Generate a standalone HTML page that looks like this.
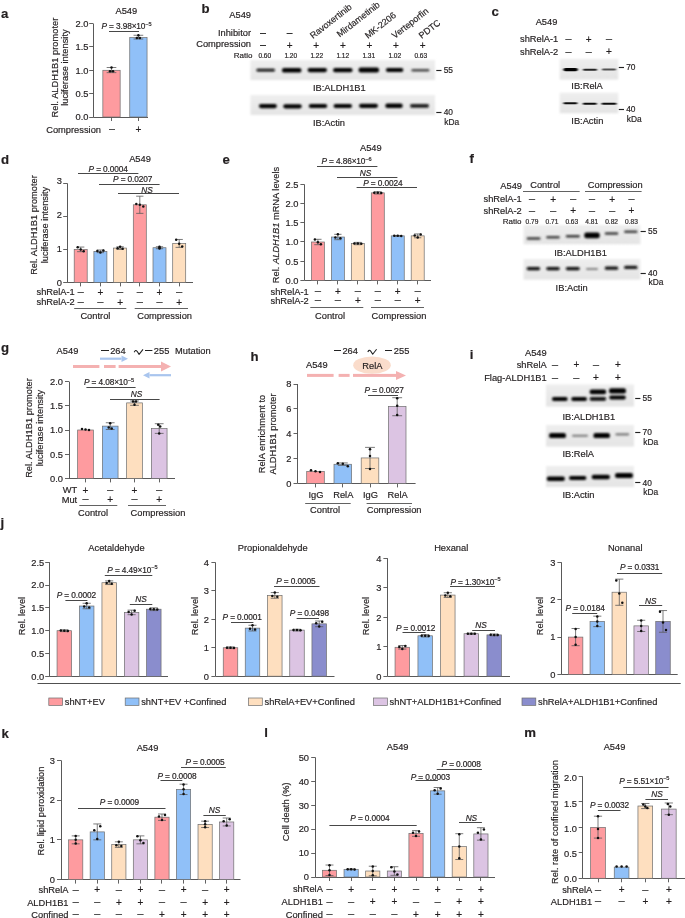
<!DOCTYPE html>
<html><head><meta charset="utf-8"><title>Figure</title>
<style>
html,body{margin:0;padding:0;background:#fff;}
body{width:685px;height:918px;overflow:hidden;}
svg{display:block;will-change:transform;}
text{font-family:"Liberation Sans",sans-serif;fill:#231f20;stroke:#231f20;stroke-width:0.18px;}
</style></head>
<body>
<svg width="685" height="918" viewBox="0 0 685 918">
<defs>
<filter id="band" x="-30%" y="-150%" width="160%" height="400%"><feGaussianBlur stdDeviation="1.1 0.85"/></filter>
<filter id="bandc" x="-30%" y="-150%" width="160%" height="400%"><feGaussianBlur stdDeviation="0.8 0.55"/></filter>
<linearGradient id="blotg" x1="0" y1="0" x2="0" y2="1"><stop offset="0" stop-color="#eeeeee"/><stop offset="1" stop-color="#e4e4e4"/></linearGradient>
<filter id="soft" x="-5%" y="-10%" width="110%" height="120%"><feGaussianBlur stdDeviation="0.9"/></filter>
</defs>
<rect width="685" height="918" fill="#fff"/>
<text x="1.00" y="18.00" font-size="13.2" font-weight="bold" fill="#111">a</text>
<text x="126.30" y="14.20" font-size="9.3" text-anchor="middle">A549</text>
<line x1="93.50" y1="23.60" x2="93.50" y2="117.00" stroke="#505050" stroke-width="0.95"/>
<line x1="89.20" y1="117.50" x2="93.20" y2="117.50" stroke="#505050" stroke-width="0.9"/>
<text x="88.50" y="120.35" font-size="9.3" text-anchor="end">0.0</text>
<line x1="89.20" y1="93.50" x2="93.20" y2="93.50" stroke="#505050" stroke-width="0.9"/>
<text x="88.50" y="97.00" font-size="9.3" text-anchor="end">0.5</text>
<line x1="89.20" y1="70.50" x2="93.20" y2="70.50" stroke="#505050" stroke-width="0.9"/>
<text x="88.50" y="73.65" font-size="9.3" text-anchor="end">1.0</text>
<line x1="89.20" y1="46.50" x2="93.20" y2="46.50" stroke="#505050" stroke-width="0.9"/>
<text x="88.50" y="50.30" font-size="9.3" text-anchor="end">1.5</text>
<line x1="89.20" y1="23.50" x2="93.20" y2="23.50" stroke="#505050" stroke-width="0.9"/>
<text x="88.50" y="26.95" font-size="9.3" text-anchor="end">2.0</text>
<line x1="93.20" y1="117.50" x2="148.00" y2="117.50" stroke="#505050" stroke-width="0.95"/>
<line x1="111.50" y1="117.00" x2="111.50" y2="121.00" stroke="#505050" stroke-width="0.9"/>
<line x1="138.50" y1="117.00" x2="138.50" y2="121.00" stroke="#505050" stroke-width="0.9"/>
<text transform="translate(58.42,67.60) rotate(-90)" font-size="9.3" text-anchor="middle">Rel. ALDH1B1 promoter</text>
<text transform="translate(68.42,67.60) rotate(-90)" font-size="9.3" text-anchor="middle">luciferase intensity</text>
<rect x="102.85" y="70.30" width="17.30" height="46.70" fill="#fe9b9f" stroke="#6d6d6d" stroke-width="0.7"/>
<line x1="111.50" y1="67.50" x2="111.50" y2="72.63" stroke="#5a5a5a" stroke-width="0.8"/>
<line x1="106.66" y1="67.50" x2="116.34" y2="67.50" stroke="#5a5a5a" stroke-width="0.8"/>
<line x1="106.66" y1="72.63" x2="116.34" y2="72.63" stroke="#5a5a5a" stroke-width="0.8"/>
<circle cx="111.50" cy="67.50" r="1.25" fill="#111"/>
<circle cx="110.00" cy="71.23" r="1.25" fill="#111"/>
<circle cx="113.00" cy="71.23" r="1.25" fill="#111"/>
<rect x="129.75" y="37.61" width="17.30" height="79.39" fill="#90c0f8" stroke="#6d6d6d" stroke-width="0.7"/>
<line x1="138.40" y1="35.27" x2="138.40" y2="39.01" stroke="#5a5a5a" stroke-width="0.8"/>
<line x1="133.56" y1="35.27" x2="143.24" y2="35.27" stroke="#5a5a5a" stroke-width="0.8"/>
<line x1="133.56" y1="39.01" x2="143.24" y2="39.01" stroke="#5a5a5a" stroke-width="0.8"/>
<circle cx="138.40" cy="35.27" r="1.25" fill="#111"/>
<circle cx="136.90" cy="38.08" r="1.25" fill="#111"/>
<circle cx="139.90" cy="38.08" r="1.25" fill="#111"/>
<line x1="109.00" y1="31.50" x2="139.00" y2="31.50" stroke="#262626" stroke-width="0.85"/>
<text x="126.50" y="29.00" font-size="8.3" text-anchor="middle" letter-spacing="-0.12"><tspan font-style="italic">P</tspan> = 3.98×10<tspan font-size="5.64" dy="-3.2">−5</tspan></text>
<text x="101.00" y="132.50" font-size="9.3" text-anchor="end">Compression</text>
<line x1="109.00" y1="129.50" x2="115.00" y2="129.50" stroke="#333" stroke-width="0.85"/>
<text x="138.40" y="132.80" font-size="10" text-anchor="middle">+</text>
<text x="201.50" y="12.80" font-size="13.2" font-weight="bold" fill="#111">b</text>
<text x="251.00" y="18.20" font-size="9.3" text-anchor="end">A549</text>
<text x="251.00" y="35.80" font-size="9.3" text-anchor="end">Inhibitor</text>
<text x="251.00" y="47.20" font-size="9.3" text-anchor="end">Compression</text>
<text x="252.50" y="57.50" font-size="8.0" text-anchor="end">Ratio</text>
<line x1="260.00" y1="33.50" x2="266.00" y2="33.50" stroke="#333" stroke-width="1.0"/>
<line x1="260.00" y1="45.50" x2="266.00" y2="45.50" stroke="#333" stroke-width="1.0"/>
<line x1="286.60" y1="33.50" x2="292.60" y2="33.50" stroke="#333" stroke-width="1.0"/>
<text x="289.60" y="48.50" font-size="10" text-anchor="middle">+</text>
<text x="316.20" y="48.50" font-size="10" text-anchor="middle">+</text>
<text x="342.80" y="48.50" font-size="10" text-anchor="middle">+</text>
<text x="369.40" y="48.50" font-size="10" text-anchor="middle">+</text>
<text x="396.00" y="48.50" font-size="10" text-anchor="middle">+</text>
<text x="422.60" y="48.50" font-size="10" text-anchor="middle">+</text>
<text x="264.80" y="57.80" font-size="6.6" text-anchor="middle">0.60</text>
<text x="290.80" y="57.80" font-size="6.6" text-anchor="middle">1.20</text>
<text x="316.80" y="57.80" font-size="6.6" text-anchor="middle">1.22</text>
<text x="342.80" y="57.80" font-size="6.6" text-anchor="middle">1.12</text>
<text x="368.80" y="57.80" font-size="6.6" text-anchor="middle">1.31</text>
<text x="394.80" y="57.80" font-size="6.6" text-anchor="middle">1.02</text>
<text x="420.80" y="57.80" font-size="6.6" text-anchor="middle">0.63</text>
<text transform="translate(313.00,39.00) rotate(-38)" font-size="9.0" text-anchor="start">Ravoxertinib</text>
<text transform="translate(339.80,37.60) rotate(-38)" font-size="9.0" text-anchor="start">Mirdametinib</text>
<text transform="translate(367.90,39.00) rotate(-38)" font-size="9.0" text-anchor="start">MK-2206</text>
<text transform="translate(394.80,39.00) rotate(-38)" font-size="9.0" text-anchor="start">Verteporfin</text>
<text transform="translate(421.80,39.00) rotate(-38)" font-size="9.0" text-anchor="start">PDTC</text>
<rect x="250.50" y="60.00" width="184.50" height="20.00" fill="url(#blotg)" filter="url(#soft)"/>
<rect x="256.45" y="68.85" width="18.50" height="2.70" rx="1.35" fill="rgb(11,11,11)" filter="url(#band)"/>
<rect x="281.95" y="68.00" width="19.50" height="4.60" rx="2.20" fill="rgb(4,4,4)" filter="url(#band)"/>
<rect x="307.55" y="67.95" width="19.50" height="4.30" rx="2.15" fill="rgb(4,4,4)" filter="url(#band)"/>
<rect x="333.05" y="68.10" width="19.50" height="4.20" rx="2.10" fill="rgb(4,4,4)" filter="url(#band)"/>
<rect x="358.55" y="67.60" width="20.50" height="4.80" rx="2.20" fill="rgb(4,4,4)" filter="url(#band)"/>
<rect x="385.85" y="68.00" width="17.50" height="4.00" rx="2.00" fill="rgb(4,4,4)" filter="url(#band)"/>
<rect x="411.40" y="68.90" width="18.00" height="2.60" rx="1.30" fill="rgb(68,68,68)" filter="url(#band)"/>
<rect x="250.50" y="95.00" width="184.50" height="20.00" fill="url(#blotg)" filter="url(#soft)"/>
<rect x="258.90" y="103.95" width="18.00" height="4.30" rx="2.15" fill="rgb(4,4,4)" filter="url(#band)"/>
<rect x="283.25" y="104.15" width="18.50" height="4.30" rx="2.15" fill="rgb(4,4,4)" filter="url(#band)"/>
<rect x="308.75" y="103.90" width="18.50" height="4.20" rx="2.10" fill="rgb(6,6,6)" filter="url(#band)"/>
<rect x="333.55" y="103.90" width="18.50" height="4.20" rx="2.10" fill="rgb(6,6,6)" filter="url(#band)"/>
<rect x="359.00" y="103.65" width="19.00" height="4.30" rx="2.15" fill="rgb(4,4,4)" filter="url(#band)"/>
<rect x="385.25" y="103.55" width="17.50" height="4.50" rx="2.20" fill="rgb(4,4,4)" filter="url(#band)"/>
<rect x="410.00" y="104.10" width="19.00" height="3.60" rx="1.80" fill="rgb(27,27,27)" filter="url(#band)"/>
<text x="313.00" y="91.40" font-size="9.3">IB:ALDH1B1</text>
<text x="313.00" y="125.80" font-size="9.3">IB:Actin</text>
<line x1="436.30" y1="70.50" x2="441.50" y2="70.50" stroke="#222" stroke-width="1.15"/>
<text x="443.70" y="73.02" font-size="8.4">55</text>
<line x1="436.30" y1="112.50" x2="441.50" y2="112.50" stroke="#222" stroke-width="1.15"/>
<text x="443.70" y="115.02" font-size="8.4">40</text>
<text x="444.30" y="125.20" font-size="8.4">kDa</text>
<text x="491.50" y="15.70" font-size="13.2" font-weight="bold" fill="#111">c</text>
<text x="546.50" y="25.20" font-size="9.3" text-anchor="middle">A549</text>
<text x="558.30" y="42.20" font-size="9.3" text-anchor="end">shRelA-1</text>
<line x1="565.30" y1="39.50" x2="571.70" y2="39.50" stroke="#333" stroke-width="0.85"/>
<text x="588.70" y="42.50" font-size="10" text-anchor="middle">+</text>
<line x1="605.80" y1="39.50" x2="612.20" y2="39.50" stroke="#333" stroke-width="0.85"/>
<text x="558.30" y="55.00" font-size="9.3" text-anchor="end">shRelA-2</text>
<line x1="565.30" y1="52.50" x2="571.70" y2="52.50" stroke="#333" stroke-width="0.85"/>
<line x1="585.50" y1="52.50" x2="591.90" y2="52.50" stroke="#333" stroke-width="0.85"/>
<text x="609.00" y="55.30" font-size="10" text-anchor="middle">+</text>
<rect x="559.70" y="59.00" width="58.60" height="20.50" fill="url(#blotg)" filter="url(#soft)"/>
<rect x="563.40" y="67.90" width="14.40" height="3.40" rx="1.70" fill="rgb(4,4,4)" filter="url(#bandc)"/>
<rect x="583.00" y="68.80" width="14.00" height="2.00" rx="1.00" fill="rgb(38,38,38)" filter="url(#bandc)"/>
<rect x="602.00" y="68.60" width="14.00" height="1.80" rx="0.90" fill="rgb(82,82,82)" filter="url(#bandc)"/>
<rect x="559.70" y="92.70" width="58.60" height="20.50" fill="url(#blotg)" filter="url(#soft)"/>
<rect x="563.40" y="102.35" width="14.00" height="1.90" rx="0.95" fill="rgb(15,15,15)" filter="url(#bandc)"/>
<rect x="582.80" y="102.75" width="14.00" height="1.90" rx="0.95" fill="rgb(15,15,15)" filter="url(#bandc)"/>
<rect x="601.50" y="102.80" width="15.00" height="2.00" rx="1.00" fill="rgb(11,11,11)" filter="url(#bandc)"/>
<line x1="618.80" y1="67.50" x2="624.00" y2="67.50" stroke="#222" stroke-width="1.15"/>
<text x="626.20" y="70.02" font-size="8.4">70</text>
<line x1="618.80" y1="109.50" x2="624.00" y2="109.50" stroke="#222" stroke-width="1.15"/>
<text x="626.20" y="112.02" font-size="8.4">40</text>
<text x="626.80" y="121.60" font-size="8.4">kDa</text>
<text x="571.30" y="89.40" font-size="9.3">IB:RelA</text>
<text x="571.30" y="123.80" font-size="9.3">IB:Actin</text>
<text x="1.00" y="163.50" font-size="13.2" font-weight="bold" fill="#111">d</text>
<text x="140.00" y="162.30" font-size="9.3" text-anchor="middle">A549</text>
<line x1="67.50" y1="183.31" x2="67.50" y2="282.40" stroke="#505050" stroke-width="0.95"/>
<line x1="63.20" y1="282.50" x2="67.20" y2="282.50" stroke="#505050" stroke-width="0.9"/>
<text x="62.00" y="285.75" font-size="9.3" text-anchor="end">0</text>
<line x1="63.20" y1="249.50" x2="67.20" y2="249.50" stroke="#505050" stroke-width="0.9"/>
<text x="62.00" y="251.82" font-size="9.3" text-anchor="end">1</text>
<line x1="63.20" y1="216.50" x2="67.20" y2="216.50" stroke="#505050" stroke-width="0.9"/>
<text x="62.00" y="217.79" font-size="9.3" text-anchor="end">2</text>
<line x1="63.20" y1="183.50" x2="67.20" y2="183.50" stroke="#505050" stroke-width="0.9"/>
<text x="62.00" y="183.86" font-size="9.3" text-anchor="end">3</text>
<line x1="67.20" y1="282.50" x2="193.00" y2="282.50" stroke="#505050" stroke-width="0.95"/>
<line x1="80.50" y1="282.40" x2="80.50" y2="286.40" stroke="#505050" stroke-width="0.9"/>
<line x1="100.50" y1="282.40" x2="100.50" y2="286.40" stroke="#505050" stroke-width="0.9"/>
<line x1="120.50" y1="282.40" x2="120.50" y2="286.40" stroke="#505050" stroke-width="0.9"/>
<line x1="139.50" y1="282.40" x2="139.50" y2="286.40" stroke="#505050" stroke-width="0.9"/>
<line x1="159.50" y1="282.40" x2="159.50" y2="286.40" stroke="#505050" stroke-width="0.9"/>
<line x1="179.50" y1="282.40" x2="179.50" y2="286.40" stroke="#505050" stroke-width="0.9"/>
<text transform="translate(37.42,225.00) rotate(-90)" font-size="9.3" text-anchor="middle">Rel. ALDH1B1 promoter</text>
<text transform="translate(48.02,225.00) rotate(-90)" font-size="9.3" text-anchor="middle">luciferase intensity</text>
<rect x="74.20" y="249.37" width="13.00" height="33.03" fill="#fe9b9f" stroke="#6d6d6d" stroke-width="0.7"/>
<line x1="80.70" y1="247.06" x2="80.70" y2="251.68" stroke="#5a5a5a" stroke-width="0.8"/>
<line x1="77.06" y1="247.06" x2="84.34" y2="247.06" stroke="#5a5a5a" stroke-width="0.8"/>
<line x1="77.06" y1="251.68" x2="84.34" y2="251.68" stroke="#5a5a5a" stroke-width="0.8"/>
<circle cx="77.70" cy="247.29" r="1.25" fill="#111"/>
<circle cx="80.70" cy="249.60" r="1.25" fill="#111"/>
<circle cx="83.70" cy="251.22" r="1.25" fill="#111"/>
<rect x="93.90" y="251.35" width="13.00" height="31.05" fill="#90c0f8" stroke="#6d6d6d" stroke-width="0.7"/>
<line x1="100.40" y1="250.03" x2="100.40" y2="252.67" stroke="#5a5a5a" stroke-width="0.8"/>
<line x1="96.76" y1="250.03" x2="104.04" y2="250.03" stroke="#5a5a5a" stroke-width="0.8"/>
<line x1="96.76" y1="252.67" x2="104.04" y2="252.67" stroke="#5a5a5a" stroke-width="0.8"/>
<circle cx="97.40" cy="251.09" r="1.25" fill="#111"/>
<circle cx="100.40" cy="252.54" r="1.25" fill="#111"/>
<circle cx="103.40" cy="250.43" r="1.25" fill="#111"/>
<rect x="113.60" y="248.05" width="13.00" height="34.35" fill="#fedfbf" stroke="#6d6d6d" stroke-width="0.7"/>
<line x1="120.10" y1="246.73" x2="120.10" y2="249.37" stroke="#5a5a5a" stroke-width="0.8"/>
<line x1="116.46" y1="246.73" x2="123.74" y2="246.73" stroke="#5a5a5a" stroke-width="0.8"/>
<line x1="116.46" y1="249.37" x2="123.74" y2="249.37" stroke="#5a5a5a" stroke-width="0.8"/>
<circle cx="120.10" cy="246.73" r="1.25" fill="#111"/>
<circle cx="117.60" cy="248.31" r="1.25" fill="#111"/>
<circle cx="122.60" cy="248.71" r="1.25" fill="#111"/>
<rect x="133.30" y="204.78" width="13.00" height="77.62" fill="#fe9b9f" stroke="#6d6d6d" stroke-width="0.7"/>
<line x1="139.80" y1="196.19" x2="139.80" y2="213.37" stroke="#5a5a5a" stroke-width="0.8"/>
<line x1="136.16" y1="196.19" x2="143.44" y2="196.19" stroke="#5a5a5a" stroke-width="0.8"/>
<line x1="136.16" y1="213.37" x2="143.44" y2="213.37" stroke="#5a5a5a" stroke-width="0.8"/>
<circle cx="136.30" cy="203.92" r="1.25" fill="#111"/>
<circle cx="139.80" cy="204.78" r="1.25" fill="#111"/>
<circle cx="143.30" cy="206.50" r="1.25" fill="#111"/>
<rect x="153.00" y="247.72" width="13.00" height="34.68" fill="#90c0f8" stroke="#6d6d6d" stroke-width="0.7"/>
<line x1="159.50" y1="246.73" x2="159.50" y2="248.71" stroke="#5a5a5a" stroke-width="0.8"/>
<line x1="155.86" y1="246.73" x2="163.14" y2="246.73" stroke="#5a5a5a" stroke-width="0.8"/>
<line x1="155.86" y1="248.71" x2="163.14" y2="248.71" stroke="#5a5a5a" stroke-width="0.8"/>
<circle cx="159.50" cy="246.78" r="1.25" fill="#111"/>
<circle cx="159.50" cy="247.72" r="1.25" fill="#111"/>
<circle cx="159.50" cy="248.61" r="1.25" fill="#111"/>
<rect x="172.70" y="243.42" width="13.00" height="38.98" fill="#fedfbf" stroke="#6d6d6d" stroke-width="0.7"/>
<line x1="179.20" y1="239.46" x2="179.20" y2="247.39" stroke="#5a5a5a" stroke-width="0.8"/>
<line x1="175.56" y1="239.46" x2="182.84" y2="239.46" stroke="#5a5a5a" stroke-width="0.8"/>
<line x1="175.56" y1="247.39" x2="182.84" y2="247.39" stroke="#5a5a5a" stroke-width="0.8"/>
<circle cx="176.20" cy="239.86" r="1.25" fill="#111"/>
<circle cx="179.20" cy="243.82" r="1.25" fill="#111"/>
<circle cx="182.20" cy="246.60" r="1.25" fill="#111"/>
<line x1="78.00" y1="173.50" x2="138.40" y2="173.50" stroke="#262626" stroke-width="0.85"/>
<text x="108.20" y="171.70" font-size="8.3" text-anchor="middle" letter-spacing="-0.12"><tspan font-style="italic">P</tspan> = 0.0004</text>
<line x1="99.00" y1="184.50" x2="159.60" y2="184.50" stroke="#262626" stroke-width="0.85"/>
<text x="132.70" y="182.20" font-size="8.3" text-anchor="middle" letter-spacing="-0.12"><tspan font-style="italic">P</tspan> = 0.0207</text>
<line x1="118.00" y1="193.50" x2="179.00" y2="193.50" stroke="#262626" stroke-width="0.85"/>
<text x="147.00" y="192.60" font-size="8.3" text-anchor="middle" font-style="italic">NS</text>
<text x="74.80" y="295.40" font-size="9.3" text-anchor="end">shRelA-1</text>
<line x1="77.50" y1="292.50" x2="83.90" y2="292.50" stroke="#333" stroke-width="0.85"/>
<text x="100.40" y="295.70" font-size="10" text-anchor="middle">+</text>
<line x1="116.90" y1="292.50" x2="123.30" y2="292.50" stroke="#333" stroke-width="0.85"/>
<line x1="136.60" y1="292.50" x2="143.00" y2="292.50" stroke="#333" stroke-width="0.85"/>
<text x="159.50" y="295.70" font-size="10" text-anchor="middle">+</text>
<line x1="176.00" y1="292.50" x2="182.40" y2="292.50" stroke="#333" stroke-width="0.85"/>
<text x="74.80" y="305.30" font-size="9.3" text-anchor="end">shRelA-2</text>
<line x1="77.50" y1="302.50" x2="83.90" y2="302.50" stroke="#333" stroke-width="0.85"/>
<line x1="97.20" y1="302.50" x2="103.60" y2="302.50" stroke="#333" stroke-width="0.85"/>
<text x="120.10" y="305.60" font-size="10" text-anchor="middle">+</text>
<line x1="136.60" y1="302.50" x2="143.00" y2="302.50" stroke="#333" stroke-width="0.85"/>
<line x1="156.30" y1="302.50" x2="162.70" y2="302.50" stroke="#333" stroke-width="0.85"/>
<text x="179.20" y="305.60" font-size="10" text-anchor="middle">+</text>
<line x1="74.20" y1="308.50" x2="126.30" y2="308.50" stroke="#505050" stroke-width="0.9"/>
<line x1="134.70" y1="308.50" x2="188.00" y2="308.50" stroke="#505050" stroke-width="0.9"/>
<text x="95.40" y="319.40" font-size="9.3" text-anchor="middle">Control</text>
<text x="164.60" y="319.40" font-size="9.3" text-anchor="middle">Compression</text>
<text x="222.50" y="163.50" font-size="13.2" font-weight="bold" fill="#111">e</text>
<text x="370.80" y="151.00" font-size="9.3" text-anchor="middle">A549</text>
<line x1="304.50" y1="184.40" x2="304.50" y2="280.40" stroke="#505050" stroke-width="0.95"/>
<line x1="300.40" y1="280.50" x2="304.40" y2="280.50" stroke="#505050" stroke-width="0.9"/>
<text x="298.50" y="283.75" font-size="9.3" text-anchor="end">0.0</text>
<line x1="300.40" y1="261.50" x2="304.40" y2="261.50" stroke="#505050" stroke-width="0.9"/>
<text x="298.50" y="264.55" font-size="9.3" text-anchor="end">0.5</text>
<line x1="300.40" y1="241.50" x2="304.40" y2="241.50" stroke="#505050" stroke-width="0.9"/>
<text x="298.50" y="245.35" font-size="9.3" text-anchor="end">1.0</text>
<line x1="300.40" y1="222.50" x2="304.40" y2="222.50" stroke="#505050" stroke-width="0.9"/>
<text x="298.50" y="226.15" font-size="9.3" text-anchor="end">1.5</text>
<line x1="300.40" y1="203.50" x2="304.40" y2="203.50" stroke="#505050" stroke-width="0.9"/>
<text x="298.50" y="206.95" font-size="9.3" text-anchor="end">2.0</text>
<line x1="300.40" y1="184.50" x2="304.40" y2="184.50" stroke="#505050" stroke-width="0.9"/>
<text x="298.50" y="187.75" font-size="9.3" text-anchor="end">2.5</text>
<line x1="304.40" y1="280.50" x2="431.00" y2="280.50" stroke="#505050" stroke-width="0.95"/>
<line x1="317.50" y1="280.40" x2="317.50" y2="284.40" stroke="#505050" stroke-width="0.9"/>
<line x1="337.50" y1="280.40" x2="337.50" y2="284.40" stroke="#505050" stroke-width="0.9"/>
<line x1="357.50" y1="280.40" x2="357.50" y2="284.40" stroke="#505050" stroke-width="0.9"/>
<line x1="377.50" y1="280.40" x2="377.50" y2="284.40" stroke="#505050" stroke-width="0.9"/>
<line x1="397.50" y1="280.40" x2="397.50" y2="284.40" stroke="#505050" stroke-width="0.9"/>
<line x1="417.50" y1="280.40" x2="417.50" y2="284.40" stroke="#505050" stroke-width="0.9"/>
<text transform="translate(279.35,225.00) rotate(-90)" font-size="9.3" text-anchor="middle">Rel. <tspan font-style="italic">ALDH1B1</tspan> mRNA levels</text>
<rect x="311.40" y="242.00" width="13.00" height="38.40" fill="#fe9b9f" stroke="#6d6d6d" stroke-width="0.7"/>
<line x1="317.90" y1="239.31" x2="317.90" y2="244.69" stroke="#5a5a5a" stroke-width="0.8"/>
<line x1="314.26" y1="239.31" x2="321.54" y2="239.31" stroke="#5a5a5a" stroke-width="0.8"/>
<line x1="314.26" y1="244.69" x2="321.54" y2="244.69" stroke="#5a5a5a" stroke-width="0.8"/>
<circle cx="314.90" cy="239.58" r="1.25" fill="#111"/>
<circle cx="317.90" cy="242.27" r="1.25" fill="#111"/>
<circle cx="320.90" cy="244.15" r="1.25" fill="#111"/>
<rect x="331.36" y="237.01" width="13.00" height="43.39" fill="#90c0f8" stroke="#6d6d6d" stroke-width="0.7"/>
<line x1="337.86" y1="234.32" x2="337.86" y2="239.70" stroke="#5a5a5a" stroke-width="0.8"/>
<line x1="334.22" y1="234.32" x2="341.50" y2="234.32" stroke="#5a5a5a" stroke-width="0.8"/>
<line x1="334.22" y1="239.70" x2="341.50" y2="239.70" stroke="#5a5a5a" stroke-width="0.8"/>
<circle cx="337.86" cy="234.32" r="1.25" fill="#111"/>
<circle cx="335.36" cy="237.55" r="1.25" fill="#111"/>
<circle cx="340.36" cy="238.35" r="1.25" fill="#111"/>
<rect x="351.32" y="243.54" width="13.00" height="36.86" fill="#fedfbf" stroke="#6d6d6d" stroke-width="0.7"/>
<line x1="357.82" y1="242.38" x2="357.82" y2="244.69" stroke="#5a5a5a" stroke-width="0.8"/>
<line x1="354.18" y1="242.38" x2="361.46" y2="242.38" stroke="#5a5a5a" stroke-width="0.8"/>
<line x1="354.18" y1="244.69" x2="361.46" y2="244.69" stroke="#5a5a5a" stroke-width="0.8"/>
<circle cx="354.32" cy="243.42" r="1.25" fill="#111"/>
<circle cx="357.82" cy="243.54" r="1.25" fill="#111"/>
<circle cx="361.32" cy="243.77" r="1.25" fill="#111"/>
<rect x="371.28" y="192.85" width="13.00" height="87.55" fill="#fe9b9f" stroke="#6d6d6d" stroke-width="0.7"/>
<line x1="377.78" y1="191.70" x2="377.78" y2="194.00" stroke="#5a5a5a" stroke-width="0.8"/>
<line x1="374.14" y1="191.70" x2="381.42" y2="191.70" stroke="#5a5a5a" stroke-width="0.8"/>
<line x1="374.14" y1="194.00" x2="381.42" y2="194.00" stroke="#5a5a5a" stroke-width="0.8"/>
<circle cx="374.28" cy="192.73" r="1.25" fill="#111"/>
<circle cx="377.78" cy="192.85" r="1.25" fill="#111"/>
<circle cx="381.28" cy="193.08" r="1.25" fill="#111"/>
<rect x="391.24" y="235.86" width="13.00" height="44.54" fill="#90c0f8" stroke="#6d6d6d" stroke-width="0.7"/>
<line x1="397.74" y1="235.47" x2="397.74" y2="236.24" stroke="#5a5a5a" stroke-width="0.8"/>
<line x1="394.10" y1="235.47" x2="401.38" y2="235.47" stroke="#5a5a5a" stroke-width="0.8"/>
<line x1="394.10" y1="236.24" x2="401.38" y2="236.24" stroke="#5a5a5a" stroke-width="0.8"/>
<circle cx="394.24" cy="235.82" r="1.25" fill="#111"/>
<circle cx="397.74" cy="235.86" r="1.25" fill="#111"/>
<circle cx="401.24" cy="235.93" r="1.25" fill="#111"/>
<rect x="411.20" y="235.86" width="13.00" height="44.54" fill="#fedfbf" stroke="#6d6d6d" stroke-width="0.7"/>
<line x1="417.70" y1="233.94" x2="417.70" y2="237.78" stroke="#5a5a5a" stroke-width="0.8"/>
<line x1="414.06" y1="233.94" x2="421.34" y2="233.94" stroke="#5a5a5a" stroke-width="0.8"/>
<line x1="414.06" y1="237.78" x2="421.34" y2="237.78" stroke="#5a5a5a" stroke-width="0.8"/>
<circle cx="414.70" cy="235.47" r="1.25" fill="#111"/>
<circle cx="417.70" cy="237.58" r="1.25" fill="#111"/>
<circle cx="420.70" cy="234.51" r="1.25" fill="#111"/>
<line x1="317.00" y1="166.50" x2="377.40" y2="166.50" stroke="#262626" stroke-width="0.85"/>
<text x="346.50" y="163.70" font-size="8.3" text-anchor="middle" letter-spacing="-0.12"><tspan font-style="italic">P</tspan> = 4.86×10<tspan font-size="5.64" dy="-3.2">−6</tspan></text>
<line x1="337.00" y1="177.50" x2="397.40" y2="177.50" stroke="#262626" stroke-width="0.85"/>
<text x="365.50" y="176.00" font-size="8.3" text-anchor="middle" font-style="italic">NS</text>
<line x1="356.60" y1="187.50" x2="417.00" y2="187.50" stroke="#262626" stroke-width="0.85"/>
<text x="382.80" y="185.60" font-size="8.3" text-anchor="middle" letter-spacing="-0.12"><tspan font-style="italic">P</tspan> = 0.0024</text>
<text x="308.80" y="294.50" font-size="9.3" text-anchor="end">shRelA-1</text>
<line x1="314.70" y1="291.50" x2="321.10" y2="291.50" stroke="#333" stroke-width="0.85"/>
<text x="337.86" y="294.80" font-size="10" text-anchor="middle">+</text>
<line x1="354.62" y1="291.50" x2="361.02" y2="291.50" stroke="#333" stroke-width="0.85"/>
<line x1="374.58" y1="291.50" x2="380.98" y2="291.50" stroke="#333" stroke-width="0.85"/>
<text x="397.74" y="294.80" font-size="10" text-anchor="middle">+</text>
<line x1="414.50" y1="291.50" x2="420.90" y2="291.50" stroke="#333" stroke-width="0.85"/>
<text x="308.80" y="303.50" font-size="9.3" text-anchor="end">shRelA-2</text>
<line x1="314.70" y1="300.50" x2="321.10" y2="300.50" stroke="#333" stroke-width="0.85"/>
<line x1="334.66" y1="300.50" x2="341.06" y2="300.50" stroke="#333" stroke-width="0.85"/>
<text x="357.82" y="303.80" font-size="10" text-anchor="middle">+</text>
<line x1="374.58" y1="300.50" x2="380.98" y2="300.50" stroke="#333" stroke-width="0.85"/>
<line x1="394.54" y1="300.50" x2="400.94" y2="300.50" stroke="#333" stroke-width="0.85"/>
<text x="417.70" y="303.80" font-size="10" text-anchor="middle">+</text>
<line x1="310.30" y1="307.50" x2="363.30" y2="307.50" stroke="#505050" stroke-width="0.9"/>
<line x1="371.00" y1="307.50" x2="424.00" y2="307.50" stroke="#505050" stroke-width="0.9"/>
<text x="330.00" y="318.50" font-size="9.3" text-anchor="middle">Control</text>
<text x="399.00" y="318.50" font-size="9.3" text-anchor="middle">Compression</text>
<text x="469.50" y="162.90" font-size="13.2" font-weight="bold" fill="#111">f</text>
<text x="522.00" y="189.00" font-size="9.3" text-anchor="end">A549</text>
<text x="545.20" y="187.90" font-size="9.3" text-anchor="middle">Control</text>
<text x="615.20" y="187.90" font-size="9.3" text-anchor="middle">Compression</text>
<line x1="523.00" y1="191.50" x2="579.70" y2="191.50" stroke="#505050" stroke-width="0.9"/>
<line x1="585.00" y1="191.50" x2="641.60" y2="191.50" stroke="#505050" stroke-width="0.9"/>
<text x="521.80" y="202.20" font-size="9.3" text-anchor="end">shRelA-1</text>
<line x1="528.80" y1="199.50" x2="535.20" y2="199.50" stroke="#333" stroke-width="0.85"/>
<text x="553.20" y="202.50" font-size="10" text-anchor="middle">+</text>
<line x1="570.00" y1="199.50" x2="576.40" y2="199.50" stroke="#333" stroke-width="0.85"/>
<line x1="588.80" y1="199.50" x2="595.20" y2="199.50" stroke="#333" stroke-width="0.85"/>
<text x="612.20" y="202.50" font-size="10" text-anchor="middle">+</text>
<line x1="628.30" y1="199.50" x2="634.70" y2="199.50" stroke="#333" stroke-width="0.85"/>
<text x="521.80" y="214.00" font-size="9.3" text-anchor="end">shRelA-2</text>
<line x1="528.80" y1="211.50" x2="535.20" y2="211.50" stroke="#333" stroke-width="0.85"/>
<line x1="550.00" y1="211.50" x2="556.40" y2="211.50" stroke="#333" stroke-width="0.85"/>
<text x="573.20" y="214.30" font-size="10" text-anchor="middle">+</text>
<line x1="588.80" y1="211.50" x2="595.20" y2="211.50" stroke="#333" stroke-width="0.85"/>
<line x1="609.00" y1="211.50" x2="615.40" y2="211.50" stroke="#333" stroke-width="0.85"/>
<text x="631.50" y="214.30" font-size="10" text-anchor="middle">+</text>
<text x="521.50" y="223.80" font-size="8.0" text-anchor="end">Ratio</text>
<text x="532.00" y="224.00" font-size="6.6" text-anchor="middle">0.79</text>
<text x="551.90" y="224.00" font-size="6.6" text-anchor="middle">0.71</text>
<text x="571.80" y="224.00" font-size="6.6" text-anchor="middle">0.63</text>
<text x="591.70" y="224.00" font-size="6.6" text-anchor="middle">4.81</text>
<text x="611.60" y="224.00" font-size="6.6" text-anchor="middle">0.82</text>
<text x="631.50" y="224.00" font-size="6.6" text-anchor="middle">0.83</text>
<rect x="523.60" y="225.00" width="116.80" height="19.20" fill="url(#blotg)" filter="url(#soft)"/>
<rect x="526.70" y="237.15" width="13.80" height="2.50" rx="1.25" fill="rgb(59,59,59)" filter="url(#band)"/>
<rect x="546.25" y="236.05" width="13.50" height="2.50" rx="1.25" fill="rgb(63,63,63)" filter="url(#band)"/>
<rect x="565.80" y="234.95" width="14.00" height="2.50" rx="1.25" fill="rgb(54,54,54)" filter="url(#band)"/>
<rect x="584.25" y="232.50" width="15.50" height="5.80" rx="2.20" fill="rgb(4,4,4)" filter="url(#band)"/>
<rect x="604.75" y="232.35" width="13.50" height="2.50" rx="1.25" fill="rgb(59,59,59)" filter="url(#band)"/>
<rect x="624.05" y="230.55" width="13.50" height="2.50" rx="1.25" fill="rgb(63,63,63)" filter="url(#band)"/>
<rect x="523.60" y="259.00" width="116.80" height="20.60" fill="url(#blotg)" filter="url(#soft)"/>
<rect x="526.65" y="267.00" width="13.50" height="3.20" rx="1.60" fill="rgb(15,15,15)" filter="url(#band)"/>
<rect x="546.25" y="267.00" width="13.50" height="3.20" rx="1.60" fill="rgb(15,15,15)" filter="url(#band)"/>
<rect x="565.80" y="267.00" width="14.00" height="3.20" rx="1.60" fill="rgb(15,15,15)" filter="url(#band)"/>
<rect x="586.00" y="268.00" width="12.00" height="2.00" rx="1.00" fill="rgb(129,129,129)" filter="url(#band)"/>
<rect x="604.75" y="266.60" width="13.50" height="3.20" rx="1.60" fill="rgb(20,20,20)" filter="url(#band)"/>
<rect x="624.05" y="265.80" width="13.50" height="3.20" rx="1.60" fill="rgb(20,20,20)" filter="url(#band)"/>
<line x1="640.60" y1="231.50" x2="645.80" y2="231.50" stroke="#222" stroke-width="1.15"/>
<text x="648.00" y="234.02" font-size="8.4">55</text>
<line x1="640.60" y1="273.50" x2="645.80" y2="273.50" stroke="#222" stroke-width="1.15"/>
<text x="648.00" y="276.02" font-size="8.4">40</text>
<text x="648.60" y="285.20" font-size="8.4">kDa</text>
<text x="554.20" y="255.60" font-size="9.3">IB:ALDH1B1</text>
<text x="555.60" y="290.60" font-size="9.3">IB:Actin</text>
<text x="1.00" y="351.80" font-size="13.2" font-weight="bold" fill="#111">g</text>
<text x="56.60" y="353.60" font-size="9.3">A549</text>
<line x1="101.00" y1="350.50" x2="109.00" y2="350.50" stroke="#222" stroke-width="1.0"/>
<text x="110.20" y="353.60" font-size="9.3">264</text>
<path d="M134.20,352.20 Q135.50,349.40 137.10,351.30 L139.10,354.40 L143.00,349.40" fill="none" stroke="#222" stroke-width="1.05" stroke-linejoin="round"/>
<line x1="145.00" y1="350.50" x2="152.40" y2="350.50" stroke="#222" stroke-width="1.0"/>
<text x="153.80" y="353.60" font-size="9.3">255</text>
<text x="175.00" y="353.60" font-size="9.3">Mutation</text>
<rect x="100.00" y="357.60" width="21.50" height="2.2" fill="#a9c5ee"/>
<polygon points="121.50,355.45 128.00,358.70 121.50,361.95" fill="#a9c5ee"/>
<rect x="73.00" y="365.00" width="26.40" height="3.00" fill="#f4b1b1"/>
<rect x="104.00" y="365.00" width="11.60" height="3.00" fill="#f4b1b1"/>
<rect x="118.60" y="365.00" width="42.40" height="3" fill="#f4b1b1"/>
<polygon points="161.00,361.50 171.00,366.50 161.00,371.50" fill="#f4b1b1"/>
<rect x="149.50" y="374.10" width="21.50" height="2.2" fill="#a9c5ee"/>
<polygon points="149.50,371.95 143.00,375.20 149.50,378.45" fill="#a9c5ee"/>
<line x1="69.50" y1="381.60" x2="69.50" y2="478.40" stroke="#505050" stroke-width="0.95"/>
<line x1="65.00" y1="478.50" x2="69.00" y2="478.50" stroke="#505050" stroke-width="0.9"/>
<text x="63.00" y="481.75" font-size="9.3" text-anchor="end">0.0</text>
<line x1="65.00" y1="454.50" x2="69.00" y2="454.50" stroke="#505050" stroke-width="0.9"/>
<text x="63.00" y="457.55" font-size="9.3" text-anchor="end">0.5</text>
<line x1="65.00" y1="430.50" x2="69.00" y2="430.50" stroke="#505050" stroke-width="0.9"/>
<text x="63.00" y="433.35" font-size="9.3" text-anchor="end">1.0</text>
<line x1="65.00" y1="405.50" x2="69.00" y2="405.50" stroke="#505050" stroke-width="0.9"/>
<text x="63.00" y="409.15" font-size="9.3" text-anchor="end">1.5</text>
<line x1="65.00" y1="381.50" x2="69.00" y2="381.50" stroke="#505050" stroke-width="0.9"/>
<text x="63.00" y="384.95" font-size="9.3" text-anchor="end">2.0</text>
<line x1="69.00" y1="478.50" x2="175.00" y2="478.50" stroke="#505050" stroke-width="0.95"/>
<line x1="85.50" y1="478.40" x2="85.50" y2="482.40" stroke="#505050" stroke-width="0.9"/>
<line x1="110.50" y1="478.40" x2="110.50" y2="482.40" stroke="#505050" stroke-width="0.9"/>
<line x1="134.50" y1="478.40" x2="134.50" y2="482.40" stroke="#505050" stroke-width="0.9"/>
<line x1="159.50" y1="478.40" x2="159.50" y2="482.40" stroke="#505050" stroke-width="0.9"/>
<text transform="translate(32.42,428.00) rotate(-90)" font-size="9.3" text-anchor="middle">Rel. ALDH1B1 promoter</text>
<text transform="translate(43.42,428.00) rotate(-90)" font-size="9.3" text-anchor="middle">luciferase intensity</text>
<rect x="77.65" y="430.00" width="15.70" height="48.40" fill="#fe9b9f" stroke="#6d6d6d" stroke-width="0.7"/>
<circle cx="82.00" cy="429.03" r="1.25" fill="#111"/>
<circle cx="85.50" cy="429.52" r="1.25" fill="#111"/>
<circle cx="89.00" cy="430.00" r="1.25" fill="#111"/>
<rect x="102.35" y="426.13" width="15.70" height="52.27" fill="#90c0f8" stroke="#6d6d6d" stroke-width="0.7"/>
<line x1="110.20" y1="422.74" x2="110.20" y2="429.52" stroke="#5a5a5a" stroke-width="0.8"/>
<line x1="105.80" y1="422.74" x2="114.60" y2="422.74" stroke="#5a5a5a" stroke-width="0.8"/>
<line x1="105.80" y1="429.52" x2="114.60" y2="429.52" stroke="#5a5a5a" stroke-width="0.8"/>
<circle cx="110.20" cy="423.22" r="1.25" fill="#111"/>
<circle cx="108.70" cy="427.58" r="1.25" fill="#111"/>
<circle cx="111.70" cy="428.55" r="1.25" fill="#111"/>
<rect x="126.65" y="402.90" width="15.70" height="75.50" fill="#fedfbf" stroke="#6d6d6d" stroke-width="0.7"/>
<line x1="134.50" y1="400.96" x2="134.50" y2="405.32" stroke="#5a5a5a" stroke-width="0.8"/>
<line x1="130.10" y1="400.96" x2="138.90" y2="400.96" stroke="#5a5a5a" stroke-width="0.8"/>
<line x1="130.10" y1="405.32" x2="138.90" y2="405.32" stroke="#5a5a5a" stroke-width="0.8"/>
<circle cx="133.00" cy="401.44" r="1.25" fill="#111"/>
<circle cx="136.00" cy="401.44" r="1.25" fill="#111"/>
<circle cx="134.50" cy="404.83" r="1.25" fill="#111"/>
<rect x="151.35" y="428.55" width="15.70" height="49.85" fill="#dcc4e3" stroke="#6d6d6d" stroke-width="0.7"/>
<line x1="159.20" y1="423.71" x2="159.20" y2="433.39" stroke="#5a5a5a" stroke-width="0.8"/>
<line x1="154.80" y1="423.71" x2="163.60" y2="423.71" stroke="#5a5a5a" stroke-width="0.8"/>
<line x1="154.80" y1="433.39" x2="163.60" y2="433.39" stroke="#5a5a5a" stroke-width="0.8"/>
<circle cx="158.20" cy="424.68" r="1.25" fill="#111"/>
<circle cx="160.20" cy="426.61" r="1.25" fill="#111"/>
<circle cx="159.20" cy="433.39" r="1.25" fill="#111"/>
<line x1="86.40" y1="387.50" x2="135.60" y2="387.50" stroke="#262626" stroke-width="0.85"/>
<text x="109.00" y="385.20" font-size="8.3" text-anchor="middle" letter-spacing="-0.12"><tspan font-style="italic">P</tspan> = 4.08×10<tspan font-size="5.64" dy="-3.2">−5</tspan></text>
<line x1="110.00" y1="399.50" x2="159.60" y2="399.50" stroke="#262626" stroke-width="0.85"/>
<text x="136.50" y="397.20" font-size="8.3" text-anchor="middle" font-style="italic">NS</text>
<text x="77.20" y="493.20" font-size="9.3" text-anchor="end">WT</text>
<text x="85.50" y="493.50" font-size="10" text-anchor="middle">+</text>
<line x1="107.00" y1="490.50" x2="113.40" y2="490.50" stroke="#333" stroke-width="0.85"/>
<text x="134.50" y="493.50" font-size="10" text-anchor="middle">+</text>
<line x1="156.00" y1="490.50" x2="162.40" y2="490.50" stroke="#333" stroke-width="0.85"/>
<text x="77.20" y="502.80" font-size="9.3" text-anchor="end">Mut</text>
<line x1="82.30" y1="499.50" x2="88.70" y2="499.50" stroke="#333" stroke-width="0.85"/>
<text x="110.20" y="503.10" font-size="10" text-anchor="middle">+</text>
<line x1="131.30" y1="499.50" x2="137.70" y2="499.50" stroke="#333" stroke-width="0.85"/>
<text x="159.20" y="503.10" font-size="10" text-anchor="middle">+</text>
<line x1="79.30" y1="505.50" x2="117.30" y2="505.50" stroke="#505050" stroke-width="0.9"/>
<line x1="128.00" y1="505.50" x2="166.00" y2="505.50" stroke="#505050" stroke-width="0.9"/>
<text x="93.00" y="516.00" font-size="9.3" text-anchor="middle">Control</text>
<text x="158.00" y="516.00" font-size="9.3" text-anchor="middle">Compression</text>
<text x="250.50" y="360.80" font-size="13.2" font-weight="bold" fill="#111">h</text>
<text x="306.00" y="368.00" font-size="9.3">A549</text>
<line x1="334.00" y1="350.50" x2="341.00" y2="350.50" stroke="#222" stroke-width="1.0"/>
<text x="342.40" y="354.40" font-size="9.3">264</text>
<path d="M367.80,352.00 Q369.10,349.20 370.70,351.10 L372.70,354.20 L376.60,349.20" fill="none" stroke="#222" stroke-width="1.05" stroke-linejoin="round"/>
<line x1="385.00" y1="350.50" x2="392.00" y2="350.50" stroke="#222" stroke-width="1.0"/>
<text x="393.80" y="354.40" font-size="9.3">255</text>
<ellipse cx="372" cy="365.2" rx="18.8" ry="8.6" fill="#fadccb"/>
<text x="372.40" y="369.00" font-size="9.3" text-anchor="middle">RelA</text>
<rect x="307.00" y="373.90" width="26.60" height="3.00" fill="#f4b1b1"/>
<rect x="338.60" y="373.90" width="11.00" height="3.00" fill="#f4b1b1"/>
<rect x="353.00" y="373.90" width="43.00" height="3" fill="#f4b1b1"/>
<polygon points="396.00,370.90 406.00,375.40 396.00,379.90" fill="#f4b1b1"/>
<line x1="297.50" y1="384.04" x2="297.50" y2="483.40" stroke="#505050" stroke-width="0.95"/>
<line x1="293.50" y1="483.50" x2="297.50" y2="483.50" stroke="#505050" stroke-width="0.9"/>
<text x="291.50" y="486.75" font-size="9.3" text-anchor="end">0</text>
<line x1="293.50" y1="458.50" x2="297.50" y2="458.50" stroke="#505050" stroke-width="0.9"/>
<text x="291.50" y="461.91" font-size="9.3" text-anchor="end">2</text>
<line x1="293.50" y1="433.50" x2="297.50" y2="433.50" stroke="#505050" stroke-width="0.9"/>
<text x="291.50" y="437.07" font-size="9.3" text-anchor="end">4</text>
<line x1="293.50" y1="408.50" x2="297.50" y2="408.50" stroke="#505050" stroke-width="0.9"/>
<text x="291.50" y="412.23" font-size="9.3" text-anchor="end">6</text>
<line x1="293.50" y1="384.50" x2="297.50" y2="384.50" stroke="#505050" stroke-width="0.9"/>
<text x="291.50" y="387.39" font-size="9.3" text-anchor="end">8</text>
<line x1="297.50" y1="483.50" x2="415.60" y2="483.50" stroke="#505050" stroke-width="0.95"/>
<line x1="315.50" y1="483.40" x2="315.50" y2="487.40" stroke="#505050" stroke-width="0.9"/>
<line x1="342.50" y1="483.40" x2="342.50" y2="487.40" stroke="#505050" stroke-width="0.9"/>
<line x1="370.50" y1="483.40" x2="370.50" y2="487.40" stroke="#505050" stroke-width="0.9"/>
<line x1="397.50" y1="483.40" x2="397.50" y2="487.40" stroke="#505050" stroke-width="0.9"/>
<text transform="translate(265.42,434.00) rotate(-90)" font-size="9.3" text-anchor="middle">RelA enrichment to</text>
<text transform="translate(276.42,434.00) rotate(-90)" font-size="9.3" text-anchor="middle">ALDH1B1 promoter</text>
<rect x="306.70" y="471.35" width="17.60" height="12.05" fill="#fe9b9f" stroke="#6d6d6d" stroke-width="0.7"/>
<circle cx="311.00" cy="470.36" r="1.25" fill="#111"/>
<circle cx="315.50" cy="471.23" r="1.25" fill="#111"/>
<circle cx="320.00" cy="471.97" r="1.25" fill="#111"/>
<rect x="334.00" y="464.27" width="17.60" height="19.13" fill="#90c0f8" stroke="#6d6d6d" stroke-width="0.7"/>
<line x1="342.80" y1="462.91" x2="342.80" y2="465.39" stroke="#5a5a5a" stroke-width="0.8"/>
<line x1="337.87" y1="462.91" x2="347.73" y2="462.91" stroke="#5a5a5a" stroke-width="0.8"/>
<line x1="337.87" y1="465.39" x2="347.73" y2="465.39" stroke="#5a5a5a" stroke-width="0.8"/>
<circle cx="337.80" cy="463.28" r="1.25" fill="#111"/>
<circle cx="342.80" cy="463.78" r="1.25" fill="#111"/>
<circle cx="347.80" cy="466.26" r="1.25" fill="#111"/>
<rect x="361.20" y="457.94" width="17.60" height="25.46" fill="#fedfbf" stroke="#6d6d6d" stroke-width="0.7"/>
<line x1="370.00" y1="447.38" x2="370.00" y2="468.50" stroke="#5a5a5a" stroke-width="0.8"/>
<line x1="365.07" y1="447.38" x2="374.93" y2="447.38" stroke="#5a5a5a" stroke-width="0.8"/>
<line x1="365.07" y1="468.50" x2="374.93" y2="468.50" stroke="#5a5a5a" stroke-width="0.8"/>
<circle cx="370.00" cy="449.25" r="1.25" fill="#111"/>
<circle cx="370.00" cy="456.08" r="1.25" fill="#111"/>
<circle cx="370.00" cy="469.12" r="1.25" fill="#111"/>
<rect x="388.40" y="406.40" width="17.60" height="77.00" fill="#dcc4e3" stroke="#6d6d6d" stroke-width="0.7"/>
<line x1="397.20" y1="397.70" x2="397.20" y2="415.71" stroke="#5a5a5a" stroke-width="0.8"/>
<line x1="392.27" y1="397.70" x2="402.13" y2="397.70" stroke="#5a5a5a" stroke-width="0.8"/>
<line x1="392.27" y1="415.71" x2="402.13" y2="415.71" stroke="#5a5a5a" stroke-width="0.8"/>
<circle cx="397.20" cy="398.32" r="1.25" fill="#111"/>
<circle cx="397.20" cy="405.77" r="1.25" fill="#111"/>
<circle cx="397.20" cy="415.09" r="1.25" fill="#111"/>
<line x1="368.00" y1="395.50" x2="398.00" y2="395.50" stroke="#262626" stroke-width="0.85"/>
<text x="384.20" y="392.60" font-size="8.3" text-anchor="middle" letter-spacing="-0.12"><tspan font-style="italic">P</tspan> = 0.0027</text>
<text x="316.00" y="497.60" font-size="9.3" text-anchor="middle">IgG</text>
<text x="343.30" y="497.60" font-size="9.3" text-anchor="middle">RelA</text>
<text x="370.50" y="497.60" font-size="9.3" text-anchor="middle">IgG</text>
<text x="397.70" y="497.60" font-size="9.3" text-anchor="middle">RelA</text>
<line x1="305.20" y1="503.50" x2="350.70" y2="503.50" stroke="#505050" stroke-width="0.9"/>
<line x1="366.60" y1="503.50" x2="412.00" y2="503.50" stroke="#505050" stroke-width="0.9"/>
<text x="325.00" y="513.30" font-size="9.3" text-anchor="middle">Control</text>
<text x="394.10" y="513.30" font-size="9.3" text-anchor="middle">Compression</text>
<text x="469.80" y="359.00" font-size="13.2" font-weight="bold" fill="#111">i</text>
<text x="546.70" y="356.00" font-size="9.3" text-anchor="end">A549</text>
<text x="546.70" y="368.00" font-size="9.3" text-anchor="end">shRelA</text>
<line x1="551.80" y1="365.50" x2="558.20" y2="365.50" stroke="#333" stroke-width="0.85"/>
<text x="576.30" y="368.30" font-size="10" text-anchor="middle">+</text>
<line x1="592.80" y1="365.50" x2="599.20" y2="365.50" stroke="#333" stroke-width="0.85"/>
<text x="618.00" y="368.30" font-size="10" text-anchor="middle">+</text>
<text x="546.70" y="381.00" font-size="9.3" text-anchor="end">Flag-ALDH1B1</text>
<line x1="551.80" y1="378.50" x2="558.20" y2="378.50" stroke="#333" stroke-width="0.85"/>
<line x1="573.10" y1="378.50" x2="579.50" y2="378.50" stroke="#333" stroke-width="0.85"/>
<text x="596.00" y="381.30" font-size="10" text-anchor="middle">+</text>
<text x="618.00" y="381.30" font-size="10" text-anchor="middle">+</text>
<rect x="546.00" y="384.50" width="88.00" height="22.00" fill="url(#blotg)" filter="url(#soft)"/>
<rect x="551.90" y="396.90" width="15.80" height="4.00" rx="2.00" fill="rgb(4,4,4)" filter="url(#band)"/>
<rect x="571.20" y="396.90" width="15.80" height="4.00" rx="2.00" fill="rgb(4,4,4)" filter="url(#band)"/>
<rect x="589.60" y="397.10" width="16.60" height="3.60" rx="1.80" fill="rgb(9,9,9)" filter="url(#band)"/>
<rect x="609.20" y="395.60" width="16.60" height="4.00" rx="2.00" fill="rgb(4,4,4)" filter="url(#band)"/>
<rect x="589.60" y="389.40" width="16.60" height="4.80" rx="2.20" fill="rgb(4,4,4)" filter="url(#band)"/>
<rect x="609.00" y="388.20" width="17.00" height="5.20" rx="2.20" fill="rgb(4,4,4)" filter="url(#band)"/>
<rect x="546.00" y="425.00" width="88.00" height="21.50" fill="url(#blotg)" filter="url(#soft)"/>
<rect x="549.00" y="433.10" width="17.00" height="5.00" rx="2.20" fill="rgb(4,4,4)" filter="url(#band)"/>
<rect x="572.00" y="434.80" width="16.00" height="2.00" rx="1.00" fill="rgb(118,118,118)" filter="url(#band)"/>
<rect x="593.40" y="433.10" width="16.60" height="5.00" rx="2.20" fill="rgb(4,4,4)" filter="url(#band)"/>
<rect x="615.30" y="433.20" width="14.00" height="2.20" rx="1.10" fill="rgb(118,118,118)" filter="url(#band)"/>
<rect x="546.00" y="466.00" width="88.00" height="21.00" fill="url(#blotg)" filter="url(#soft)"/>
<rect x="546.70" y="476.60" width="18.20" height="4.40" rx="2.20" fill="rgb(4,4,4)" filter="url(#band)"/>
<rect x="569.00" y="476.10" width="17.40" height="4.00" rx="2.00" fill="rgb(6,6,6)" filter="url(#band)"/>
<rect x="591.65" y="474.80" width="18.30" height="4.40" rx="2.20" fill="rgb(4,4,4)" filter="url(#band)"/>
<rect x="615.00" y="473.10" width="18.00" height="4.80" rx="2.20" fill="rgb(4,4,4)" filter="url(#band)"/>
<line x1="635.20" y1="398.50" x2="640.40" y2="398.50" stroke="#222" stroke-width="1.15"/>
<text x="642.60" y="401.02" font-size="8.4">55</text>
<line x1="635.20" y1="432.50" x2="640.40" y2="432.50" stroke="#222" stroke-width="1.15"/>
<text x="642.60" y="435.42" font-size="8.4">70</text>
<text x="643.20" y="444.50" font-size="8.4">kDa</text>
<line x1="635.20" y1="482.50" x2="640.40" y2="482.50" stroke="#222" stroke-width="1.15"/>
<text x="642.60" y="485.62" font-size="8.4">40</text>
<text x="643.20" y="494.50" font-size="8.4">kDa</text>
<text x="562.40" y="420.40" font-size="9.3">IB:ALDH1B1</text>
<text x="562.40" y="457.00" font-size="9.3">IB:RelA</text>
<text x="562.40" y="497.60" font-size="9.3">IB:Actin</text>
<text x="0.60" y="526.50" font-size="13.2" font-weight="bold" fill="#111">j</text>
<text x="116.50" y="551.20" font-size="9.3" text-anchor="middle">Acetaldehyde</text>
<line x1="49.50" y1="562.15" x2="49.50" y2="676.40" stroke="#505050" stroke-width="0.95"/>
<line x1="45.20" y1="676.50" x2="49.20" y2="676.50" stroke="#505050" stroke-width="0.9"/>
<text x="44.20" y="679.75" font-size="9.3" text-anchor="end">0.0</text>
<line x1="45.20" y1="653.50" x2="49.20" y2="653.50" stroke="#505050" stroke-width="0.9"/>
<text x="44.20" y="656.90" font-size="9.3" text-anchor="end">0.5</text>
<line x1="45.20" y1="630.50" x2="49.20" y2="630.50" stroke="#505050" stroke-width="0.9"/>
<text x="44.20" y="634.05" font-size="9.3" text-anchor="end">1.0</text>
<line x1="45.20" y1="607.50" x2="49.20" y2="607.50" stroke="#505050" stroke-width="0.9"/>
<text x="44.20" y="611.20" font-size="9.3" text-anchor="end">1.5</text>
<line x1="45.20" y1="585.50" x2="49.20" y2="585.50" stroke="#505050" stroke-width="0.9"/>
<text x="44.20" y="588.35" font-size="9.3" text-anchor="end">2.0</text>
<line x1="45.20" y1="562.50" x2="49.20" y2="562.50" stroke="#505050" stroke-width="0.9"/>
<text x="44.20" y="565.50" font-size="9.3" text-anchor="end">2.5</text>
<line x1="49.20" y1="676.50" x2="168.00" y2="676.50" stroke="#505050" stroke-width="0.95"/>
<text transform="translate(24.92,616.00) rotate(-90)" font-size="9.3" text-anchor="middle">Rel. level</text>
<rect x="57.05" y="630.70" width="14.50" height="45.70" fill="#fe9b9f" stroke="#6d6d6d" stroke-width="0.7"/>
<line x1="64.30" y1="629.79" x2="64.30" y2="631.61" stroke="#5a5a5a" stroke-width="0.8"/>
<line x1="60.24" y1="629.79" x2="68.36" y2="629.79" stroke="#5a5a5a" stroke-width="0.8"/>
<line x1="60.24" y1="631.61" x2="68.36" y2="631.61" stroke="#5a5a5a" stroke-width="0.8"/>
<circle cx="60.80" cy="630.61" r="1.25" fill="#111"/>
<circle cx="64.30" cy="630.70" r="1.25" fill="#111"/>
<circle cx="67.80" cy="630.88" r="1.25" fill="#111"/>
<rect x="79.45" y="606.02" width="14.50" height="70.38" fill="#90c0f8" stroke="#6d6d6d" stroke-width="0.7"/>
<line x1="86.70" y1="603.28" x2="86.70" y2="608.76" stroke="#5a5a5a" stroke-width="0.8"/>
<line x1="82.64" y1="603.28" x2="90.76" y2="603.28" stroke="#5a5a5a" stroke-width="0.8"/>
<line x1="82.64" y1="608.76" x2="90.76" y2="608.76" stroke="#5a5a5a" stroke-width="0.8"/>
<circle cx="86.70" cy="603.28" r="1.25" fill="#111"/>
<circle cx="84.20" cy="606.57" r="1.25" fill="#111"/>
<circle cx="89.20" cy="607.39" r="1.25" fill="#111"/>
<rect x="101.95" y="582.71" width="14.50" height="93.69" fill="#fedfbf" stroke="#6d6d6d" stroke-width="0.7"/>
<line x1="109.20" y1="580.89" x2="109.20" y2="584.54" stroke="#5a5a5a" stroke-width="0.8"/>
<line x1="105.14" y1="580.89" x2="113.26" y2="580.89" stroke="#5a5a5a" stroke-width="0.8"/>
<line x1="105.14" y1="584.54" x2="113.26" y2="584.54" stroke="#5a5a5a" stroke-width="0.8"/>
<circle cx="109.20" cy="580.89" r="1.25" fill="#111"/>
<circle cx="106.70" cy="583.08" r="1.25" fill="#111"/>
<circle cx="111.70" cy="583.63" r="1.25" fill="#111"/>
<rect x="124.35" y="612.42" width="14.50" height="63.98" fill="#dcc4e3" stroke="#6d6d6d" stroke-width="0.7"/>
<line x1="131.60" y1="610.13" x2="131.60" y2="614.70" stroke="#5a5a5a" stroke-width="0.8"/>
<line x1="127.54" y1="610.13" x2="135.66" y2="610.13" stroke="#5a5a5a" stroke-width="0.8"/>
<line x1="127.54" y1="614.70" x2="135.66" y2="614.70" stroke="#5a5a5a" stroke-width="0.8"/>
<circle cx="128.60" cy="611.96" r="1.25" fill="#111"/>
<circle cx="131.60" cy="614.48" r="1.25" fill="#111"/>
<circle cx="134.60" cy="610.82" r="1.25" fill="#111"/>
<rect x="146.55" y="609.22" width="14.50" height="67.18" fill="#8a8dcd" stroke="#6d6d6d" stroke-width="0.7"/>
<line x1="153.80" y1="607.85" x2="153.80" y2="610.59" stroke="#5a5a5a" stroke-width="0.8"/>
<line x1="149.74" y1="607.85" x2="157.86" y2="607.85" stroke="#5a5a5a" stroke-width="0.8"/>
<line x1="149.74" y1="610.59" x2="157.86" y2="610.59" stroke="#5a5a5a" stroke-width="0.8"/>
<circle cx="150.30" cy="609.08" r="1.25" fill="#111"/>
<circle cx="153.80" cy="609.22" r="1.25" fill="#111"/>
<circle cx="157.30" cy="609.50" r="1.25" fill="#111"/>
<line x1="65.40" y1="600.50" x2="87.40" y2="600.50" stroke="#262626" stroke-width="0.85"/>
<text x="76.30" y="598.30" font-size="8.3" text-anchor="middle" letter-spacing="-0.12"><tspan font-style="italic">P</tspan> = 0.0002</text>
<line x1="104.80" y1="575.50" x2="152.30" y2="575.50" stroke="#262626" stroke-width="0.85"/>
<text x="132.40" y="572.60" font-size="8.3" text-anchor="middle" letter-spacing="-0.12"><tspan font-style="italic">P</tspan> = 4.49×10<tspan font-size="5.64" dy="-3.2">−5</tspan></text>
<line x1="129.80" y1="604.50" x2="152.30" y2="604.50" stroke="#262626" stroke-width="0.85"/>
<text x="141.00" y="602.20" font-size="8.3" text-anchor="middle" font-style="italic">NS</text>
<text x="272.70" y="551.20" font-size="9.3" text-anchor="middle">Propionaldehyde</text>
<line x1="215.50" y1="562.40" x2="215.50" y2="676.20" stroke="#505050" stroke-width="0.95"/>
<line x1="211.40" y1="676.50" x2="215.40" y2="676.50" stroke="#505050" stroke-width="0.9"/>
<text x="209.00" y="679.55" font-size="9.3" text-anchor="end">0</text>
<line x1="211.40" y1="647.50" x2="215.40" y2="647.50" stroke="#505050" stroke-width="0.9"/>
<text x="209.00" y="651.10" font-size="9.3" text-anchor="end">1</text>
<line x1="211.40" y1="619.50" x2="215.40" y2="619.50" stroke="#505050" stroke-width="0.9"/>
<text x="209.00" y="622.65" font-size="9.3" text-anchor="end">2</text>
<line x1="211.40" y1="590.50" x2="215.40" y2="590.50" stroke="#505050" stroke-width="0.9"/>
<text x="209.00" y="594.20" font-size="9.3" text-anchor="end">3</text>
<line x1="211.40" y1="562.50" x2="215.40" y2="562.50" stroke="#505050" stroke-width="0.9"/>
<text x="209.00" y="565.75" font-size="9.3" text-anchor="end">4</text>
<line x1="215.40" y1="676.50" x2="334.50" y2="676.50" stroke="#505050" stroke-width="0.95"/>
<text transform="translate(197.62,616.00) rotate(-90)" font-size="9.3" text-anchor="middle">Rel. level</text>
<rect x="223.25" y="647.75" width="14.50" height="28.45" fill="#fe9b9f" stroke="#6d6d6d" stroke-width="0.7"/>
<line x1="230.50" y1="646.90" x2="230.50" y2="648.60" stroke="#5a5a5a" stroke-width="0.8"/>
<line x1="226.44" y1="646.90" x2="234.56" y2="646.90" stroke="#5a5a5a" stroke-width="0.8"/>
<line x1="226.44" y1="648.60" x2="234.56" y2="648.60" stroke="#5a5a5a" stroke-width="0.8"/>
<circle cx="227.00" cy="647.66" r="1.25" fill="#111"/>
<circle cx="230.50" cy="647.75" r="1.25" fill="#111"/>
<circle cx="234.00" cy="647.92" r="1.25" fill="#111"/>
<rect x="245.25" y="628.12" width="14.50" height="48.08" fill="#90c0f8" stroke="#6d6d6d" stroke-width="0.7"/>
<line x1="252.50" y1="625.27" x2="252.50" y2="630.96" stroke="#5a5a5a" stroke-width="0.8"/>
<line x1="248.44" y1="625.27" x2="256.56" y2="625.27" stroke="#5a5a5a" stroke-width="0.8"/>
<line x1="248.44" y1="630.96" x2="256.56" y2="630.96" stroke="#5a5a5a" stroke-width="0.8"/>
<circle cx="252.50" cy="625.27" r="1.25" fill="#111"/>
<circle cx="250.00" cy="628.69" r="1.25" fill="#111"/>
<circle cx="255.00" cy="629.54" r="1.25" fill="#111"/>
<rect x="267.55" y="595.40" width="14.50" height="80.80" fill="#fedfbf" stroke="#6d6d6d" stroke-width="0.7"/>
<line x1="274.80" y1="592.56" x2="274.80" y2="598.25" stroke="#5a5a5a" stroke-width="0.8"/>
<line x1="270.74" y1="592.56" x2="278.86" y2="592.56" stroke="#5a5a5a" stroke-width="0.8"/>
<line x1="270.74" y1="598.25" x2="278.86" y2="598.25" stroke="#5a5a5a" stroke-width="0.8"/>
<circle cx="274.80" cy="592.56" r="1.25" fill="#111"/>
<circle cx="272.30" cy="595.97" r="1.25" fill="#111"/>
<circle cx="277.30" cy="596.82" r="1.25" fill="#111"/>
<rect x="289.75" y="630.11" width="14.50" height="46.09" fill="#dcc4e3" stroke="#6d6d6d" stroke-width="0.7"/>
<line x1="297.00" y1="629.26" x2="297.00" y2="630.96" stroke="#5a5a5a" stroke-width="0.8"/>
<line x1="292.94" y1="629.26" x2="301.06" y2="629.26" stroke="#5a5a5a" stroke-width="0.8"/>
<line x1="292.94" y1="630.96" x2="301.06" y2="630.96" stroke="#5a5a5a" stroke-width="0.8"/>
<circle cx="293.50" cy="630.03" r="1.25" fill="#111"/>
<circle cx="297.00" cy="630.11" r="1.25" fill="#111"/>
<circle cx="300.50" cy="630.28" r="1.25" fill="#111"/>
<rect x="311.95" y="623.85" width="14.50" height="52.35" fill="#8a8dcd" stroke="#6d6d6d" stroke-width="0.7"/>
<line x1="319.20" y1="621.01" x2="319.20" y2="626.70" stroke="#5a5a5a" stroke-width="0.8"/>
<line x1="315.14" y1="621.01" x2="323.26" y2="621.01" stroke="#5a5a5a" stroke-width="0.8"/>
<line x1="315.14" y1="626.70" x2="323.26" y2="626.70" stroke="#5a5a5a" stroke-width="0.8"/>
<circle cx="316.20" cy="623.28" r="1.25" fill="#111"/>
<circle cx="319.20" cy="626.41" r="1.25" fill="#111"/>
<circle cx="322.20" cy="621.86" r="1.25" fill="#111"/>
<line x1="231.00" y1="622.50" x2="253.40" y2="622.50" stroke="#262626" stroke-width="0.85"/>
<text x="242.20" y="620.20" font-size="8.3" text-anchor="middle" letter-spacing="-0.12"><tspan font-style="italic">P</tspan> = 0.0001</text>
<line x1="274.00" y1="586.50" x2="319.50" y2="586.50" stroke="#262626" stroke-width="0.85"/>
<text x="295.80" y="584.30" font-size="8.3" text-anchor="middle" letter-spacing="-0.12"><tspan font-style="italic">P</tspan> = 0.0005</text>
<line x1="296.60" y1="618.50" x2="319.00" y2="618.50" stroke="#262626" stroke-width="0.85"/>
<text x="309.40" y="616.20" font-size="8.3" text-anchor="middle" letter-spacing="-0.12"><tspan font-style="italic">P</tspan> = 0.0498</text>
<text x="451.20" y="551.20" font-size="9.3" text-anchor="middle">Hexanal</text>
<line x1="387.50" y1="558.20" x2="387.50" y2="676.20" stroke="#505050" stroke-width="0.95"/>
<line x1="383.40" y1="676.50" x2="387.40" y2="676.50" stroke="#505050" stroke-width="0.9"/>
<text x="381.50" y="679.55" font-size="9.3" text-anchor="end">0</text>
<line x1="383.40" y1="646.50" x2="387.40" y2="646.50" stroke="#505050" stroke-width="0.9"/>
<text x="381.50" y="650.05" font-size="9.3" text-anchor="end">1</text>
<line x1="383.40" y1="617.50" x2="387.40" y2="617.50" stroke="#505050" stroke-width="0.9"/>
<text x="381.50" y="620.55" font-size="9.3" text-anchor="end">2</text>
<line x1="383.40" y1="587.50" x2="387.40" y2="587.50" stroke="#505050" stroke-width="0.9"/>
<text x="381.50" y="591.05" font-size="9.3" text-anchor="end">3</text>
<line x1="383.40" y1="558.50" x2="387.40" y2="558.50" stroke="#505050" stroke-width="0.9"/>
<text x="381.50" y="561.55" font-size="9.3" text-anchor="end">4</text>
<line x1="387.40" y1="676.50" x2="510.00" y2="676.50" stroke="#505050" stroke-width="0.95"/>
<text transform="translate(369.12,616.00) rotate(-90)" font-size="9.3" text-anchor="middle">Rel. level</text>
<rect x="395.05" y="647.29" width="14.50" height="28.91" fill="#fe9b9f" stroke="#6d6d6d" stroke-width="0.7"/>
<line x1="402.30" y1="645.52" x2="402.30" y2="649.06" stroke="#5a5a5a" stroke-width="0.8"/>
<line x1="398.24" y1="645.52" x2="406.36" y2="645.52" stroke="#5a5a5a" stroke-width="0.8"/>
<line x1="398.24" y1="649.06" x2="406.36" y2="649.06" stroke="#5a5a5a" stroke-width="0.8"/>
<circle cx="399.30" cy="646.94" r="1.25" fill="#111"/>
<circle cx="402.30" cy="648.88" r="1.25" fill="#111"/>
<circle cx="405.30" cy="646.05" r="1.25" fill="#111"/>
<rect x="417.95" y="635.79" width="14.50" height="40.41" fill="#90c0f8" stroke="#6d6d6d" stroke-width="0.7"/>
<line x1="425.20" y1="634.61" x2="425.20" y2="636.97" stroke="#5a5a5a" stroke-width="0.8"/>
<line x1="421.14" y1="634.61" x2="429.26" y2="634.61" stroke="#5a5a5a" stroke-width="0.8"/>
<line x1="421.14" y1="636.97" x2="429.26" y2="636.97" stroke="#5a5a5a" stroke-width="0.8"/>
<circle cx="421.70" cy="635.67" r="1.25" fill="#111"/>
<circle cx="425.20" cy="635.79" r="1.25" fill="#111"/>
<circle cx="428.70" cy="636.02" r="1.25" fill="#111"/>
<rect x="440.55" y="595.08" width="14.50" height="81.12" fill="#fedfbf" stroke="#6d6d6d" stroke-width="0.7"/>
<line x1="447.80" y1="592.72" x2="447.80" y2="597.44" stroke="#5a5a5a" stroke-width="0.8"/>
<line x1="443.74" y1="592.72" x2="451.86" y2="592.72" stroke="#5a5a5a" stroke-width="0.8"/>
<line x1="443.74" y1="597.44" x2="451.86" y2="597.44" stroke="#5a5a5a" stroke-width="0.8"/>
<circle cx="447.80" cy="592.72" r="1.25" fill="#111"/>
<circle cx="445.30" cy="595.55" r="1.25" fill="#111"/>
<circle cx="450.30" cy="596.26" r="1.25" fill="#111"/>
<rect x="464.05" y="633.72" width="14.50" height="42.48" fill="#dcc4e3" stroke="#6d6d6d" stroke-width="0.7"/>
<line x1="471.30" y1="633.13" x2="471.30" y2="634.31" stroke="#5a5a5a" stroke-width="0.8"/>
<line x1="467.24" y1="633.13" x2="475.36" y2="633.13" stroke="#5a5a5a" stroke-width="0.8"/>
<line x1="467.24" y1="634.31" x2="475.36" y2="634.31" stroke="#5a5a5a" stroke-width="0.8"/>
<circle cx="467.80" cy="633.66" r="1.25" fill="#111"/>
<circle cx="471.30" cy="633.72" r="1.25" fill="#111"/>
<circle cx="474.80" cy="633.84" r="1.25" fill="#111"/>
<rect x="486.95" y="634.90" width="14.50" height="41.30" fill="#8a8dcd" stroke="#6d6d6d" stroke-width="0.7"/>
<line x1="494.20" y1="634.02" x2="494.20" y2="635.79" stroke="#5a5a5a" stroke-width="0.8"/>
<line x1="490.14" y1="634.02" x2="498.26" y2="634.02" stroke="#5a5a5a" stroke-width="0.8"/>
<line x1="490.14" y1="635.79" x2="498.26" y2="635.79" stroke="#5a5a5a" stroke-width="0.8"/>
<circle cx="490.70" cy="634.81" r="1.25" fill="#111"/>
<circle cx="494.20" cy="634.90" r="1.25" fill="#111"/>
<circle cx="497.70" cy="635.08" r="1.25" fill="#111"/>
<line x1="402.50" y1="632.50" x2="425.50" y2="632.50" stroke="#262626" stroke-width="0.85"/>
<text x="415.60" y="630.50" font-size="8.3" text-anchor="middle" letter-spacing="-0.12"><tspan font-style="italic">P</tspan> = 0.0012</text>
<line x1="450.00" y1="586.50" x2="495.00" y2="586.50" stroke="#262626" stroke-width="0.85"/>
<text x="475.50" y="584.50" font-size="8.3" text-anchor="middle" letter-spacing="-0.12"><tspan font-style="italic">P</tspan> = 1.30×10<tspan font-size="5.64" dy="-3.2">−5</tspan></text>
<line x1="472.20" y1="630.50" x2="495.00" y2="630.50" stroke="#262626" stroke-width="0.85"/>
<text x="481.00" y="628.30" font-size="8.3" text-anchor="middle" font-style="italic">NS</text>
<text x="625.20" y="551.20" font-size="9.3" text-anchor="middle">Nonanal</text>
<line x1="561.50" y1="562.30" x2="561.50" y2="674.50" stroke="#505050" stroke-width="0.95"/>
<line x1="557.40" y1="674.50" x2="561.40" y2="674.50" stroke="#505050" stroke-width="0.9"/>
<text x="555.50" y="677.85" font-size="9.3" text-anchor="end">0</text>
<line x1="557.40" y1="637.50" x2="561.40" y2="637.50" stroke="#505050" stroke-width="0.9"/>
<text x="555.50" y="640.45" font-size="9.3" text-anchor="end">1</text>
<line x1="557.40" y1="599.50" x2="561.40" y2="599.50" stroke="#505050" stroke-width="0.9"/>
<text x="555.50" y="603.05" font-size="9.3" text-anchor="end">2</text>
<line x1="557.40" y1="562.50" x2="561.40" y2="562.50" stroke="#505050" stroke-width="0.9"/>
<text x="555.50" y="565.65" font-size="9.3" text-anchor="end">3</text>
<line x1="561.40" y1="674.50" x2="677.70" y2="674.50" stroke="#505050" stroke-width="0.95"/>
<text transform="translate(542.62,616.00) rotate(-90)" font-size="9.3" text-anchor="middle">Rel. level</text>
<rect x="568.35" y="637.10" width="14.50" height="37.40" fill="#fe9b9f" stroke="#6d6d6d" stroke-width="0.7"/>
<line x1="575.60" y1="628.50" x2="575.60" y2="645.70" stroke="#5a5a5a" stroke-width="0.8"/>
<line x1="571.54" y1="628.50" x2="579.66" y2="628.50" stroke="#5a5a5a" stroke-width="0.8"/>
<line x1="571.54" y1="645.70" x2="579.66" y2="645.70" stroke="#5a5a5a" stroke-width="0.8"/>
<circle cx="575.60" cy="628.93" r="1.25" fill="#111"/>
<circle cx="575.60" cy="637.10" r="1.25" fill="#111"/>
<circle cx="575.60" cy="644.84" r="1.25" fill="#111"/>
<rect x="590.05" y="621.39" width="14.50" height="53.11" fill="#90c0f8" stroke="#6d6d6d" stroke-width="0.7"/>
<line x1="597.30" y1="616.16" x2="597.30" y2="626.63" stroke="#5a5a5a" stroke-width="0.8"/>
<line x1="593.24" y1="616.16" x2="601.36" y2="616.16" stroke="#5a5a5a" stroke-width="0.8"/>
<line x1="593.24" y1="626.63" x2="601.36" y2="626.63" stroke="#5a5a5a" stroke-width="0.8"/>
<circle cx="597.30" cy="616.42" r="1.25" fill="#111"/>
<circle cx="597.30" cy="621.39" r="1.25" fill="#111"/>
<circle cx="597.30" cy="626.10" r="1.25" fill="#111"/>
<rect x="612.05" y="592.22" width="14.50" height="82.28" fill="#fedfbf" stroke="#6d6d6d" stroke-width="0.7"/>
<line x1="619.30" y1="579.13" x2="619.30" y2="605.31" stroke="#5a5a5a" stroke-width="0.8"/>
<line x1="615.24" y1="579.13" x2="623.36" y2="579.13" stroke="#5a5a5a" stroke-width="0.8"/>
<line x1="615.24" y1="605.31" x2="623.36" y2="605.31" stroke="#5a5a5a" stroke-width="0.8"/>
<circle cx="616.30" cy="580.44" r="1.25" fill="#111"/>
<circle cx="619.30" cy="593.53" r="1.25" fill="#111"/>
<circle cx="622.30" cy="602.69" r="1.25" fill="#111"/>
<rect x="633.95" y="625.88" width="14.50" height="48.62" fill="#dcc4e3" stroke="#6d6d6d" stroke-width="0.7"/>
<line x1="641.20" y1="620.27" x2="641.20" y2="631.49" stroke="#5a5a5a" stroke-width="0.8"/>
<line x1="637.14" y1="620.27" x2="645.26" y2="620.27" stroke="#5a5a5a" stroke-width="0.8"/>
<line x1="637.14" y1="631.49" x2="645.26" y2="631.49" stroke="#5a5a5a" stroke-width="0.8"/>
<circle cx="641.20" cy="620.55" r="1.25" fill="#111"/>
<circle cx="641.20" cy="625.88" r="1.25" fill="#111"/>
<circle cx="641.20" cy="630.93" r="1.25" fill="#111"/>
<rect x="655.75" y="621.39" width="14.50" height="53.11" fill="#8a8dcd" stroke="#6d6d6d" stroke-width="0.7"/>
<line x1="663.00" y1="610.55" x2="663.00" y2="632.24" stroke="#5a5a5a" stroke-width="0.8"/>
<line x1="658.94" y1="610.55" x2="667.06" y2="610.55" stroke="#5a5a5a" stroke-width="0.8"/>
<line x1="658.94" y1="632.24" x2="667.06" y2="632.24" stroke="#5a5a5a" stroke-width="0.8"/>
<circle cx="660.00" cy="611.63" r="1.25" fill="#111"/>
<circle cx="663.00" cy="622.48" r="1.25" fill="#111"/>
<circle cx="666.00" cy="630.07" r="1.25" fill="#111"/>
<line x1="572.20" y1="613.50" x2="597.20" y2="613.50" stroke="#262626" stroke-width="0.85"/>
<text x="585.20" y="611.00" font-size="8.3" text-anchor="middle" letter-spacing="-0.12"><tspan font-style="italic">P</tspan> = 0.0184</text>
<line x1="617.00" y1="573.50" x2="662.20" y2="573.50" stroke="#262626" stroke-width="0.85"/>
<text x="639.60" y="570.30" font-size="8.3" text-anchor="middle" letter-spacing="-0.12"><tspan font-style="italic">P</tspan> = 0.0331</text>
<line x1="639.00" y1="605.50" x2="662.20" y2="605.50" stroke="#262626" stroke-width="0.85"/>
<text x="650.80" y="604.00" font-size="8.3" text-anchor="middle" font-style="italic">NS</text>
<line x1="37.50" y1="683.50" x2="680.70" y2="683.50" stroke="#505050" stroke-width="1.0"/>
<rect x="48.80" y="698.00" width="13.80" height="7.40" fill="#fe9b9f" stroke="#6d6d6d" stroke-width="0.7"/>
<text x="64.80" y="705.00" font-size="9.3">shNT+EV</text>
<rect x="125.20" y="698.00" width="13.80" height="7.40" fill="#90c0f8" stroke="#6d6d6d" stroke-width="0.7"/>
<text x="141.20" y="705.00" font-size="9.3">shNT+EV +Confined</text>
<rect x="248.50" y="698.00" width="13.80" height="7.40" fill="#fedfbf" stroke="#6d6d6d" stroke-width="0.7"/>
<text x="264.50" y="705.00" font-size="9.3">shRelA+EV+Confined</text>
<rect x="373.60" y="698.00" width="13.80" height="7.40" fill="#dcc4e3" stroke="#6d6d6d" stroke-width="0.7"/>
<text x="389.60" y="705.00" font-size="9.3">shNT+ALDH1B1+Confined</text>
<rect x="522.00" y="698.00" width="13.80" height="7.40" fill="#8a8dcd" stroke="#6d6d6d" stroke-width="0.7"/>
<text x="538.00" y="705.00" font-size="9.3">shRelA+ALDH1B1+Confined</text>
<text x="1.50" y="737.50" font-size="13.2" font-weight="bold" fill="#111">k</text>
<text x="147.50" y="750.60" font-size="9.3" text-anchor="middle">A549</text>
<line x1="61.50" y1="760.35" x2="61.50" y2="879.60" stroke="#505050" stroke-width="0.95"/>
<line x1="57.00" y1="879.50" x2="61.00" y2="879.50" stroke="#505050" stroke-width="0.9"/>
<text x="55.00" y="882.95" font-size="9.3" text-anchor="end">0</text>
<line x1="57.00" y1="839.50" x2="61.00" y2="839.50" stroke="#505050" stroke-width="0.9"/>
<text x="55.00" y="843.20" font-size="9.3" text-anchor="end">1</text>
<line x1="57.00" y1="800.50" x2="61.00" y2="800.50" stroke="#505050" stroke-width="0.9"/>
<text x="55.00" y="803.45" font-size="9.3" text-anchor="end">2</text>
<line x1="57.00" y1="760.50" x2="61.00" y2="760.50" stroke="#505050" stroke-width="0.9"/>
<text x="55.00" y="763.70" font-size="9.3" text-anchor="end">3</text>
<line x1="61.00" y1="879.50" x2="240.50" y2="879.50" stroke="#505050" stroke-width="0.95"/>
<line x1="75.50" y1="879.60" x2="75.50" y2="883.60" stroke="#505050" stroke-width="0.9"/>
<line x1="97.50" y1="879.60" x2="97.50" y2="883.60" stroke="#505050" stroke-width="0.9"/>
<line x1="118.50" y1="879.60" x2="118.50" y2="883.60" stroke="#505050" stroke-width="0.9"/>
<line x1="140.50" y1="879.60" x2="140.50" y2="883.60" stroke="#505050" stroke-width="0.9"/>
<line x1="161.50" y1="879.60" x2="161.50" y2="883.60" stroke="#505050" stroke-width="0.9"/>
<line x1="183.50" y1="879.60" x2="183.50" y2="883.60" stroke="#505050" stroke-width="0.9"/>
<line x1="205.50" y1="879.60" x2="205.50" y2="883.60" stroke="#505050" stroke-width="0.9"/>
<line x1="226.50" y1="879.60" x2="226.50" y2="883.60" stroke="#505050" stroke-width="0.9"/>
<text transform="translate(44.42,811.00) rotate(-90)" font-size="9.3" text-anchor="middle">Rel. lipid peroxidation</text>
<rect x="68.60" y="839.85" width="14.20" height="39.75" fill="#fe9b9f" stroke="#6d6d6d" stroke-width="0.7"/>
<line x1="75.70" y1="835.88" x2="75.70" y2="843.83" stroke="#5a5a5a" stroke-width="0.8"/>
<line x1="71.72" y1="835.88" x2="79.68" y2="835.88" stroke="#5a5a5a" stroke-width="0.8"/>
<line x1="71.72" y1="843.83" x2="79.68" y2="843.83" stroke="#5a5a5a" stroke-width="0.8"/>
<circle cx="75.70" cy="836.07" r="1.25" fill="#111"/>
<circle cx="75.70" cy="839.85" r="1.25" fill="#111"/>
<circle cx="75.70" cy="843.43" r="1.25" fill="#111"/>
<rect x="90.17" y="831.90" width="14.20" height="47.70" fill="#90c0f8" stroke="#6d6d6d" stroke-width="0.7"/>
<line x1="97.27" y1="823.95" x2="97.27" y2="839.85" stroke="#5a5a5a" stroke-width="0.8"/>
<line x1="93.29" y1="823.95" x2="101.25" y2="823.95" stroke="#5a5a5a" stroke-width="0.8"/>
<line x1="93.29" y1="839.85" x2="101.25" y2="839.85" stroke="#5a5a5a" stroke-width="0.8"/>
<circle cx="94.27" cy="830.31" r="1.25" fill="#111"/>
<circle cx="97.27" cy="839.06" r="1.25" fill="#111"/>
<circle cx="100.27" cy="826.34" r="1.25" fill="#111"/>
<rect x="111.74" y="844.62" width="14.20" height="34.98" fill="#fedfbf" stroke="#6d6d6d" stroke-width="0.7"/>
<line x1="118.84" y1="841.84" x2="118.84" y2="847.40" stroke="#5a5a5a" stroke-width="0.8"/>
<line x1="114.86" y1="841.84" x2="122.82" y2="841.84" stroke="#5a5a5a" stroke-width="0.8"/>
<line x1="114.86" y1="847.40" x2="122.82" y2="847.40" stroke="#5a5a5a" stroke-width="0.8"/>
<circle cx="118.84" cy="841.84" r="1.25" fill="#111"/>
<circle cx="116.34" cy="845.18" r="1.25" fill="#111"/>
<circle cx="121.34" cy="846.01" r="1.25" fill="#111"/>
<rect x="133.31" y="839.85" width="14.20" height="39.75" fill="#dcc4e3" stroke="#6d6d6d" stroke-width="0.7"/>
<line x1="140.41" y1="835.88" x2="140.41" y2="843.83" stroke="#5a5a5a" stroke-width="0.8"/>
<line x1="136.43" y1="835.88" x2="144.39" y2="835.88" stroke="#5a5a5a" stroke-width="0.8"/>
<line x1="136.43" y1="843.83" x2="144.39" y2="843.83" stroke="#5a5a5a" stroke-width="0.8"/>
<circle cx="137.41" cy="836.27" r="1.25" fill="#111"/>
<circle cx="140.41" cy="840.25" r="1.25" fill="#111"/>
<circle cx="143.41" cy="843.03" r="1.25" fill="#111"/>
<rect x="154.88" y="817.19" width="14.20" height="62.41" fill="#fe9b9f" stroke="#6d6d6d" stroke-width="0.7"/>
<line x1="161.98" y1="814.01" x2="161.98" y2="820.37" stroke="#5a5a5a" stroke-width="0.8"/>
<line x1="158.00" y1="814.01" x2="165.96" y2="814.01" stroke="#5a5a5a" stroke-width="0.8"/>
<line x1="158.00" y1="820.37" x2="165.96" y2="820.37" stroke="#5a5a5a" stroke-width="0.8"/>
<circle cx="158.98" cy="816.56" r="1.25" fill="#111"/>
<circle cx="161.98" cy="820.05" r="1.25" fill="#111"/>
<circle cx="164.98" cy="814.97" r="1.25" fill="#111"/>
<rect x="176.45" y="789.37" width="14.20" height="90.23" fill="#90c0f8" stroke="#6d6d6d" stroke-width="0.7"/>
<line x1="183.55" y1="784.20" x2="183.55" y2="794.53" stroke="#5a5a5a" stroke-width="0.8"/>
<line x1="179.57" y1="784.20" x2="187.53" y2="784.20" stroke="#5a5a5a" stroke-width="0.8"/>
<line x1="179.57" y1="794.53" x2="187.53" y2="794.53" stroke="#5a5a5a" stroke-width="0.8"/>
<circle cx="183.55" cy="784.46" r="1.25" fill="#111"/>
<circle cx="183.55" cy="789.37" r="1.25" fill="#111"/>
<circle cx="183.55" cy="794.02" r="1.25" fill="#111"/>
<rect x="198.02" y="824.35" width="14.20" height="55.25" fill="#fedfbf" stroke="#6d6d6d" stroke-width="0.7"/>
<line x1="205.12" y1="821.17" x2="205.12" y2="827.53" stroke="#5a5a5a" stroke-width="0.8"/>
<line x1="201.14" y1="821.17" x2="209.10" y2="821.17" stroke="#5a5a5a" stroke-width="0.8"/>
<line x1="201.14" y1="827.53" x2="209.10" y2="827.53" stroke="#5a5a5a" stroke-width="0.8"/>
<circle cx="205.12" cy="821.33" r="1.25" fill="#111"/>
<circle cx="205.12" cy="824.35" r="1.25" fill="#111"/>
<circle cx="205.12" cy="827.21" r="1.25" fill="#111"/>
<rect x="219.59" y="821.96" width="14.20" height="57.64" fill="#dcc4e3" stroke="#6d6d6d" stroke-width="0.7"/>
<line x1="226.69" y1="817.99" x2="226.69" y2="825.94" stroke="#5a5a5a" stroke-width="0.8"/>
<line x1="222.71" y1="817.99" x2="230.67" y2="817.99" stroke="#5a5a5a" stroke-width="0.8"/>
<line x1="222.71" y1="825.94" x2="230.67" y2="825.94" stroke="#5a5a5a" stroke-width="0.8"/>
<circle cx="223.69" cy="821.17" r="1.25" fill="#111"/>
<circle cx="226.69" cy="825.54" r="1.25" fill="#111"/>
<circle cx="229.69" cy="819.18" r="1.25" fill="#111"/>
<line x1="78.00" y1="808.50" x2="165.50" y2="808.50" stroke="#262626" stroke-width="0.85"/>
<text x="119.40" y="805.20" font-size="8.3" text-anchor="middle" letter-spacing="-0.12"><tspan font-style="italic">P</tspan> = 0.0009</text>
<line x1="160.50" y1="780.50" x2="182.30" y2="780.50" stroke="#262626" stroke-width="0.85"/>
<text x="177.00" y="778.50" font-size="8.3" text-anchor="middle" letter-spacing="-0.12"><tspan font-style="italic">P</tspan> = 0.0008</text>
<line x1="181.00" y1="767.50" x2="225.80" y2="767.50" stroke="#262626" stroke-width="0.85"/>
<text x="205.00" y="765.40" font-size="8.3" text-anchor="middle" letter-spacing="-0.12"><tspan font-style="italic">P</tspan> = 0.0005</text>
<line x1="203.40" y1="815.50" x2="225.80" y2="815.50" stroke="#262626" stroke-width="0.85"/>
<text x="214.50" y="812.60" font-size="8.3" text-anchor="middle" font-style="italic">NS</text>
<text x="68.50" y="893.00" font-size="9.3" text-anchor="end">shRelA</text>
<line x1="72.50" y1="890.50" x2="78.90" y2="890.50" stroke="#333" stroke-width="0.85"/>
<text x="97.27" y="893.30" font-size="10" text-anchor="middle">+</text>
<line x1="115.64" y1="890.50" x2="122.04" y2="890.50" stroke="#333" stroke-width="0.85"/>
<text x="140.41" y="893.30" font-size="10" text-anchor="middle">+</text>
<line x1="158.78" y1="890.50" x2="165.18" y2="890.50" stroke="#333" stroke-width="0.85"/>
<text x="183.55" y="893.30" font-size="10" text-anchor="middle">+</text>
<line x1="201.92" y1="890.50" x2="208.32" y2="890.50" stroke="#333" stroke-width="0.85"/>
<text x="226.69" y="893.30" font-size="10" text-anchor="middle">+</text>
<text x="68.50" y="905.60" font-size="9.3" text-anchor="end">ALDH1B1</text>
<line x1="72.50" y1="902.50" x2="78.90" y2="902.50" stroke="#333" stroke-width="0.85"/>
<line x1="94.07" y1="902.50" x2="100.47" y2="902.50" stroke="#333" stroke-width="0.85"/>
<text x="118.84" y="905.90" font-size="10" text-anchor="middle">+</text>
<text x="140.41" y="905.90" font-size="10" text-anchor="middle">+</text>
<line x1="158.78" y1="902.50" x2="165.18" y2="902.50" stroke="#333" stroke-width="0.85"/>
<line x1="180.35" y1="902.50" x2="186.75" y2="902.50" stroke="#333" stroke-width="0.85"/>
<text x="205.12" y="905.90" font-size="10" text-anchor="middle">+</text>
<text x="226.69" y="905.90" font-size="10" text-anchor="middle">+</text>
<text x="68.50" y="917.80" font-size="9.3" text-anchor="end">Confined</text>
<line x1="72.50" y1="914.50" x2="78.90" y2="914.50" stroke="#333" stroke-width="0.85"/>
<line x1="94.07" y1="914.50" x2="100.47" y2="914.50" stroke="#333" stroke-width="0.85"/>
<line x1="115.64" y1="914.50" x2="122.04" y2="914.50" stroke="#333" stroke-width="0.85"/>
<line x1="137.21" y1="914.50" x2="143.61" y2="914.50" stroke="#333" stroke-width="0.85"/>
<text x="161.98" y="918.10" font-size="10" text-anchor="middle">+</text>
<text x="183.55" y="918.10" font-size="10" text-anchor="middle">+</text>
<text x="205.12" y="918.10" font-size="10" text-anchor="middle">+</text>
<text x="226.69" y="918.10" font-size="10" text-anchor="middle">+</text>
<text x="264.20" y="737.30" font-size="13.2" font-weight="bold" fill="#111">l</text>
<text x="397.70" y="750.20" font-size="9.3" text-anchor="middle">A549</text>
<line x1="315.50" y1="757.35" x2="315.50" y2="877.00" stroke="#505050" stroke-width="0.95"/>
<line x1="311.20" y1="877.50" x2="315.20" y2="877.50" stroke="#505050" stroke-width="0.9"/>
<text x="309.00" y="880.35" font-size="9.3" text-anchor="end">0</text>
<line x1="311.20" y1="853.50" x2="315.20" y2="853.50" stroke="#505050" stroke-width="0.9"/>
<text x="309.00" y="856.42" font-size="9.3" text-anchor="end">10</text>
<line x1="311.20" y1="829.50" x2="315.20" y2="829.50" stroke="#505050" stroke-width="0.9"/>
<text x="309.00" y="832.49" font-size="9.3" text-anchor="end">20</text>
<line x1="311.20" y1="805.50" x2="315.20" y2="805.50" stroke="#505050" stroke-width="0.9"/>
<text x="309.00" y="808.56" font-size="9.3" text-anchor="end">30</text>
<line x1="311.20" y1="781.50" x2="315.20" y2="781.50" stroke="#505050" stroke-width="0.9"/>
<text x="309.00" y="784.63" font-size="9.3" text-anchor="end">40</text>
<line x1="311.20" y1="757.50" x2="315.20" y2="757.50" stroke="#505050" stroke-width="0.9"/>
<text x="309.00" y="760.70" font-size="9.3" text-anchor="end">50</text>
<line x1="315.20" y1="877.50" x2="495.00" y2="877.50" stroke="#505050" stroke-width="0.95"/>
<line x1="329.50" y1="877.00" x2="329.50" y2="881.00" stroke="#505050" stroke-width="0.9"/>
<line x1="351.50" y1="877.00" x2="351.50" y2="881.00" stroke="#505050" stroke-width="0.9"/>
<line x1="372.50" y1="877.00" x2="372.50" y2="881.00" stroke="#505050" stroke-width="0.9"/>
<line x1="394.50" y1="877.00" x2="394.50" y2="881.00" stroke="#505050" stroke-width="0.9"/>
<line x1="416.50" y1="877.00" x2="416.50" y2="881.00" stroke="#505050" stroke-width="0.9"/>
<line x1="437.50" y1="877.00" x2="437.50" y2="881.00" stroke="#505050" stroke-width="0.9"/>
<line x1="459.50" y1="877.00" x2="459.50" y2="881.00" stroke="#505050" stroke-width="0.9"/>
<line x1="480.50" y1="877.00" x2="480.50" y2="881.00" stroke="#505050" stroke-width="0.9"/>
<text transform="translate(288.72,811.80) rotate(-90)" font-size="9.3" text-anchor="middle">Cell death (%)</text>
<rect x="322.40" y="870.30" width="14.20" height="6.70" fill="#fe9b9f" stroke="#6d6d6d" stroke-width="0.7"/>
<line x1="329.50" y1="865.03" x2="329.50" y2="875.56" stroke="#5a5a5a" stroke-width="0.8"/>
<line x1="325.52" y1="865.03" x2="333.48" y2="865.03" stroke="#5a5a5a" stroke-width="0.8"/>
<line x1="325.52" y1="875.56" x2="333.48" y2="875.56" stroke="#5a5a5a" stroke-width="0.8"/>
<circle cx="329.50" cy="865.30" r="1.25" fill="#111"/>
<circle cx="329.50" cy="870.30" r="1.25" fill="#111"/>
<circle cx="329.50" cy="875.04" r="1.25" fill="#111"/>
<rect x="344.03" y="869.34" width="14.20" height="7.66" fill="#90c0f8" stroke="#6d6d6d" stroke-width="0.7"/>
<line x1="351.13" y1="868.86" x2="351.13" y2="869.82" stroke="#5a5a5a" stroke-width="0.8"/>
<line x1="347.15" y1="868.86" x2="355.11" y2="868.86" stroke="#5a5a5a" stroke-width="0.8"/>
<line x1="347.15" y1="869.82" x2="355.11" y2="869.82" stroke="#5a5a5a" stroke-width="0.8"/>
<circle cx="347.63" cy="869.29" r="1.25" fill="#111"/>
<circle cx="351.13" cy="869.34" r="1.25" fill="#111"/>
<circle cx="354.63" cy="869.44" r="1.25" fill="#111"/>
<rect x="365.66" y="871.02" width="14.20" height="5.98" fill="#fedfbf" stroke="#6d6d6d" stroke-width="0.7"/>
<line x1="372.76" y1="866.23" x2="372.76" y2="875.80" stroke="#5a5a5a" stroke-width="0.8"/>
<line x1="368.78" y1="866.23" x2="376.74" y2="866.23" stroke="#5a5a5a" stroke-width="0.8"/>
<line x1="368.78" y1="875.80" x2="376.74" y2="875.80" stroke="#5a5a5a" stroke-width="0.8"/>
<circle cx="372.76" cy="866.47" r="1.25" fill="#111"/>
<circle cx="372.76" cy="871.02" r="1.25" fill="#111"/>
<circle cx="372.76" cy="875.32" r="1.25" fill="#111"/>
<rect x="387.29" y="871.02" width="14.20" height="5.98" fill="#dcc4e3" stroke="#6d6d6d" stroke-width="0.7"/>
<line x1="394.39" y1="866.71" x2="394.39" y2="875.32" stroke="#5a5a5a" stroke-width="0.8"/>
<line x1="390.41" y1="866.71" x2="398.37" y2="866.71" stroke="#5a5a5a" stroke-width="0.8"/>
<line x1="390.41" y1="875.32" x2="398.37" y2="875.32" stroke="#5a5a5a" stroke-width="0.8"/>
<circle cx="391.39" cy="867.14" r="1.25" fill="#111"/>
<circle cx="394.39" cy="871.45" r="1.25" fill="#111"/>
<circle cx="397.39" cy="874.46" r="1.25" fill="#111"/>
<rect x="408.92" y="833.45" width="14.20" height="43.55" fill="#fe9b9f" stroke="#6d6d6d" stroke-width="0.7"/>
<line x1="416.02" y1="830.58" x2="416.02" y2="836.32" stroke="#5a5a5a" stroke-width="0.8"/>
<line x1="412.04" y1="830.58" x2="420.00" y2="830.58" stroke="#5a5a5a" stroke-width="0.8"/>
<line x1="412.04" y1="836.32" x2="420.00" y2="836.32" stroke="#5a5a5a" stroke-width="0.8"/>
<circle cx="413.02" cy="832.87" r="1.25" fill="#111"/>
<circle cx="416.02" cy="836.03" r="1.25" fill="#111"/>
<circle cx="419.02" cy="831.44" r="1.25" fill="#111"/>
<rect x="430.55" y="790.85" width="14.20" height="86.15" fill="#90c0f8" stroke="#6d6d6d" stroke-width="0.7"/>
<line x1="437.65" y1="787.50" x2="437.65" y2="794.20" stroke="#5a5a5a" stroke-width="0.8"/>
<line x1="433.67" y1="787.50" x2="441.63" y2="787.50" stroke="#5a5a5a" stroke-width="0.8"/>
<line x1="433.67" y1="794.20" x2="441.63" y2="794.20" stroke="#5a5a5a" stroke-width="0.8"/>
<circle cx="434.65" cy="790.18" r="1.25" fill="#111"/>
<circle cx="437.65" cy="793.87" r="1.25" fill="#111"/>
<circle cx="440.65" cy="788.51" r="1.25" fill="#111"/>
<rect x="452.18" y="846.61" width="14.20" height="30.39" fill="#fedfbf" stroke="#6d6d6d" stroke-width="0.7"/>
<line x1="459.28" y1="833.69" x2="459.28" y2="859.53" stroke="#5a5a5a" stroke-width="0.8"/>
<line x1="455.30" y1="833.69" x2="463.26" y2="833.69" stroke="#5a5a5a" stroke-width="0.8"/>
<line x1="455.30" y1="859.53" x2="463.26" y2="859.53" stroke="#5a5a5a" stroke-width="0.8"/>
<circle cx="459.28" cy="834.33" r="1.25" fill="#111"/>
<circle cx="459.28" cy="846.61" r="1.25" fill="#111"/>
<circle cx="459.28" cy="858.24" r="1.25" fill="#111"/>
<rect x="473.81" y="833.93" width="14.20" height="43.07" fill="#dcc4e3" stroke="#6d6d6d" stroke-width="0.7"/>
<line x1="480.91" y1="827.70" x2="480.91" y2="840.15" stroke="#5a5a5a" stroke-width="0.8"/>
<line x1="476.93" y1="827.70" x2="484.89" y2="827.70" stroke="#5a5a5a" stroke-width="0.8"/>
<line x1="476.93" y1="840.15" x2="484.89" y2="840.15" stroke="#5a5a5a" stroke-width="0.8"/>
<circle cx="477.91" cy="832.68" r="1.25" fill="#111"/>
<circle cx="480.91" cy="839.53" r="1.25" fill="#111"/>
<circle cx="483.91" cy="829.57" r="1.25" fill="#111"/>
<line x1="329.40" y1="825.50" x2="416.70" y2="825.50" stroke="#262626" stroke-width="0.85"/>
<text x="369.90" y="821.40" font-size="8.3" text-anchor="middle" letter-spacing="-0.12"><tspan font-style="italic">P</tspan> = 0.0004</text>
<line x1="415.50" y1="780.50" x2="437.80" y2="780.50" stroke="#262626" stroke-width="0.85"/>
<text x="430.30" y="779.60" font-size="8.3" text-anchor="middle" letter-spacing="-0.12"><tspan font-style="italic">P</tspan> = 0.0003</text>
<line x1="436.70" y1="769.50" x2="481.90" y2="769.50" stroke="#262626" stroke-width="0.85"/>
<text x="461.20" y="766.60" font-size="8.3" text-anchor="middle" letter-spacing="-0.12"><tspan font-style="italic">P</tspan> = 0.0008</text>
<line x1="459.00" y1="822.50" x2="481.90" y2="822.50" stroke="#262626" stroke-width="0.85"/>
<text x="471.40" y="820.60" font-size="8.3" text-anchor="middle" font-style="italic">NS</text>
<text x="322.90" y="892.20" font-size="9.3" text-anchor="end">shRelA</text>
<line x1="326.30" y1="889.50" x2="332.70" y2="889.50" stroke="#333" stroke-width="0.85"/>
<text x="351.13" y="892.50" font-size="10" text-anchor="middle">+</text>
<line x1="369.56" y1="889.50" x2="375.96" y2="889.50" stroke="#333" stroke-width="0.85"/>
<text x="394.39" y="892.50" font-size="10" text-anchor="middle">+</text>
<line x1="412.82" y1="889.50" x2="419.22" y2="889.50" stroke="#333" stroke-width="0.85"/>
<text x="437.65" y="892.50" font-size="10" text-anchor="middle">+</text>
<line x1="456.08" y1="889.50" x2="462.48" y2="889.50" stroke="#333" stroke-width="0.85"/>
<text x="480.91" y="892.50" font-size="10" text-anchor="middle">+</text>
<text x="322.90" y="905.00" font-size="9.3" text-anchor="end">ALDH1B1</text>
<line x1="326.30" y1="902.50" x2="332.70" y2="902.50" stroke="#333" stroke-width="0.85"/>
<line x1="347.93" y1="902.50" x2="354.33" y2="902.50" stroke="#333" stroke-width="0.85"/>
<text x="372.76" y="905.30" font-size="10" text-anchor="middle">+</text>
<text x="394.39" y="905.30" font-size="10" text-anchor="middle">+</text>
<line x1="412.82" y1="902.50" x2="419.22" y2="902.50" stroke="#333" stroke-width="0.85"/>
<line x1="434.45" y1="902.50" x2="440.85" y2="902.50" stroke="#333" stroke-width="0.85"/>
<text x="459.28" y="905.30" font-size="10" text-anchor="middle">+</text>
<text x="480.91" y="905.30" font-size="10" text-anchor="middle">+</text>
<text x="322.90" y="917.60" font-size="9.3" text-anchor="end">Confined</text>
<line x1="326.30" y1="914.50" x2="332.70" y2="914.50" stroke="#333" stroke-width="0.85"/>
<line x1="347.93" y1="914.50" x2="354.33" y2="914.50" stroke="#333" stroke-width="0.85"/>
<line x1="369.56" y1="914.50" x2="375.96" y2="914.50" stroke="#333" stroke-width="0.85"/>
<line x1="391.19" y1="914.50" x2="397.59" y2="914.50" stroke="#333" stroke-width="0.85"/>
<text x="416.02" y="917.90" font-size="10" text-anchor="middle">+</text>
<text x="437.65" y="917.90" font-size="10" text-anchor="middle">+</text>
<text x="459.28" y="917.90" font-size="10" text-anchor="middle">+</text>
<text x="480.91" y="917.90" font-size="10" text-anchor="middle">+</text>
<text x="524.20" y="737.20" font-size="13.2" font-weight="bold" fill="#111">m</text>
<text x="614.50" y="749.60" font-size="9.3" text-anchor="middle">A549</text>
<line x1="582.50" y1="776.50" x2="582.50" y2="878.30" stroke="#505050" stroke-width="0.95"/>
<line x1="578.70" y1="878.50" x2="582.70" y2="878.50" stroke="#505050" stroke-width="0.9"/>
<text x="577.00" y="881.95" font-size="9.3" text-anchor="end">0.0</text>
<line x1="578.70" y1="852.50" x2="582.70" y2="852.50" stroke="#505050" stroke-width="0.9"/>
<text x="577.00" y="856.80" font-size="9.3" text-anchor="end">0.5</text>
<line x1="578.70" y1="827.50" x2="582.70" y2="827.50" stroke="#505050" stroke-width="0.9"/>
<text x="577.00" y="831.65" font-size="9.3" text-anchor="end">1.0</text>
<line x1="578.70" y1="801.50" x2="582.70" y2="801.50" stroke="#505050" stroke-width="0.9"/>
<text x="577.00" y="806.50" font-size="9.3" text-anchor="end">1.5</text>
<line x1="578.70" y1="776.50" x2="582.70" y2="776.50" stroke="#505050" stroke-width="0.9"/>
<text x="577.00" y="781.05" font-size="9.3" text-anchor="end">2.0</text>
<line x1="582.70" y1="878.50" x2="685.00" y2="878.50" stroke="#505050" stroke-width="0.95"/>
<line x1="598.50" y1="878.30" x2="598.50" y2="882.30" stroke="#505050" stroke-width="0.9"/>
<line x1="621.50" y1="878.30" x2="621.50" y2="882.30" stroke="#505050" stroke-width="0.9"/>
<line x1="645.50" y1="878.30" x2="645.50" y2="882.30" stroke="#505050" stroke-width="0.9"/>
<line x1="668.50" y1="878.30" x2="668.50" y2="882.30" stroke="#505050" stroke-width="0.9"/>
<text transform="translate(558.42,822.00) rotate(-90)" font-size="9.3" text-anchor="middle">Rel. rate of confined migration</text>
<rect x="590.65" y="827.40" width="14.70" height="50.90" fill="#fe9b9f" stroke="#6d6d6d" stroke-width="0.7"/>
<line x1="598.00" y1="816.20" x2="598.00" y2="838.09" stroke="#5a5a5a" stroke-width="0.8"/>
<line x1="593.88" y1="816.20" x2="602.12" y2="816.20" stroke="#5a5a5a" stroke-width="0.8"/>
<line x1="593.88" y1="838.09" x2="602.12" y2="838.09" stroke="#5a5a5a" stroke-width="0.8"/>
<circle cx="598.00" cy="816.20" r="1.25" fill="#111"/>
<circle cx="598.00" cy="828.93" r="1.25" fill="#111"/>
<circle cx="598.00" cy="838.09" r="1.25" fill="#111"/>
<rect x="614.25" y="867.10" width="14.70" height="11.20" fill="#90c0f8" stroke="#6d6d6d" stroke-width="0.7"/>
<circle cx="616.60" cy="866.59" r="1.25" fill="#111"/>
<circle cx="621.60" cy="866.59" r="1.25" fill="#111"/>
<circle cx="626.60" cy="866.59" r="1.25" fill="#111"/>
<rect x="637.95" y="806.02" width="14.70" height="72.28" fill="#fedfbf" stroke="#6d6d6d" stroke-width="0.7"/>
<line x1="645.30" y1="803.48" x2="645.30" y2="808.57" stroke="#5a5a5a" stroke-width="0.8"/>
<line x1="641.18" y1="803.48" x2="649.42" y2="803.48" stroke="#5a5a5a" stroke-width="0.8"/>
<line x1="641.18" y1="808.57" x2="649.42" y2="808.57" stroke="#5a5a5a" stroke-width="0.8"/>
<circle cx="643.30" cy="804.50" r="1.25" fill="#111"/>
<circle cx="645.30" cy="806.53" r="1.25" fill="#111"/>
<circle cx="647.30" cy="808.06" r="1.25" fill="#111"/>
<rect x="661.45" y="809.08" width="14.70" height="69.22" fill="#dcc4e3" stroke="#6d6d6d" stroke-width="0.7"/>
<line x1="668.80" y1="802.97" x2="668.80" y2="814.67" stroke="#5a5a5a" stroke-width="0.8"/>
<line x1="664.68" y1="802.97" x2="672.92" y2="802.97" stroke="#5a5a5a" stroke-width="0.8"/>
<line x1="664.68" y1="814.67" x2="672.92" y2="814.67" stroke="#5a5a5a" stroke-width="0.8"/>
<circle cx="667.80" cy="803.99" r="1.25" fill="#111"/>
<circle cx="670.30" cy="806.53" r="1.25" fill="#111"/>
<circle cx="668.80" cy="814.67" r="1.25" fill="#111"/>
<line x1="597.90" y1="810.50" x2="620.50" y2="810.50" stroke="#262626" stroke-width="0.85"/>
<text x="609.50" y="807.60" font-size="8.3" text-anchor="middle" letter-spacing="-0.12"><tspan font-style="italic">P</tspan> = 0.0032</text>
<line x1="623.20" y1="787.50" x2="668.50" y2="787.50" stroke="#262626" stroke-width="0.85"/>
<text x="644.30" y="783.60" font-size="8.3" text-anchor="middle" letter-spacing="-0.12"><tspan font-style="italic">P</tspan> = 5.51×10<tspan font-size="5.64" dy="-3.2">−5</tspan></text>
<line x1="645.40" y1="799.50" x2="668.00" y2="799.50" stroke="#262626" stroke-width="0.85"/>
<text x="657.00" y="797.40" font-size="8.3" text-anchor="middle" font-style="italic">NS</text>
<text x="592.20" y="893.00" font-size="9.3" text-anchor="end">shRelA</text>
<line x1="594.80" y1="890.50" x2="601.20" y2="890.50" stroke="#333" stroke-width="0.85"/>
<text x="621.60" y="893.30" font-size="10" text-anchor="middle">+</text>
<line x1="642.10" y1="890.50" x2="648.50" y2="890.50" stroke="#333" stroke-width="0.85"/>
<text x="668.80" y="893.30" font-size="10" text-anchor="middle">+</text>
<text x="592.20" y="904.60" font-size="9.3" text-anchor="end">ALDH1B1</text>
<line x1="594.80" y1="901.50" x2="601.20" y2="901.50" stroke="#333" stroke-width="0.85"/>
<line x1="618.40" y1="901.50" x2="624.80" y2="901.50" stroke="#333" stroke-width="0.85"/>
<text x="645.30" y="904.90" font-size="10" text-anchor="middle">+</text>
<text x="668.80" y="904.90" font-size="10" text-anchor="middle">+</text>
</svg>
</body></html>
